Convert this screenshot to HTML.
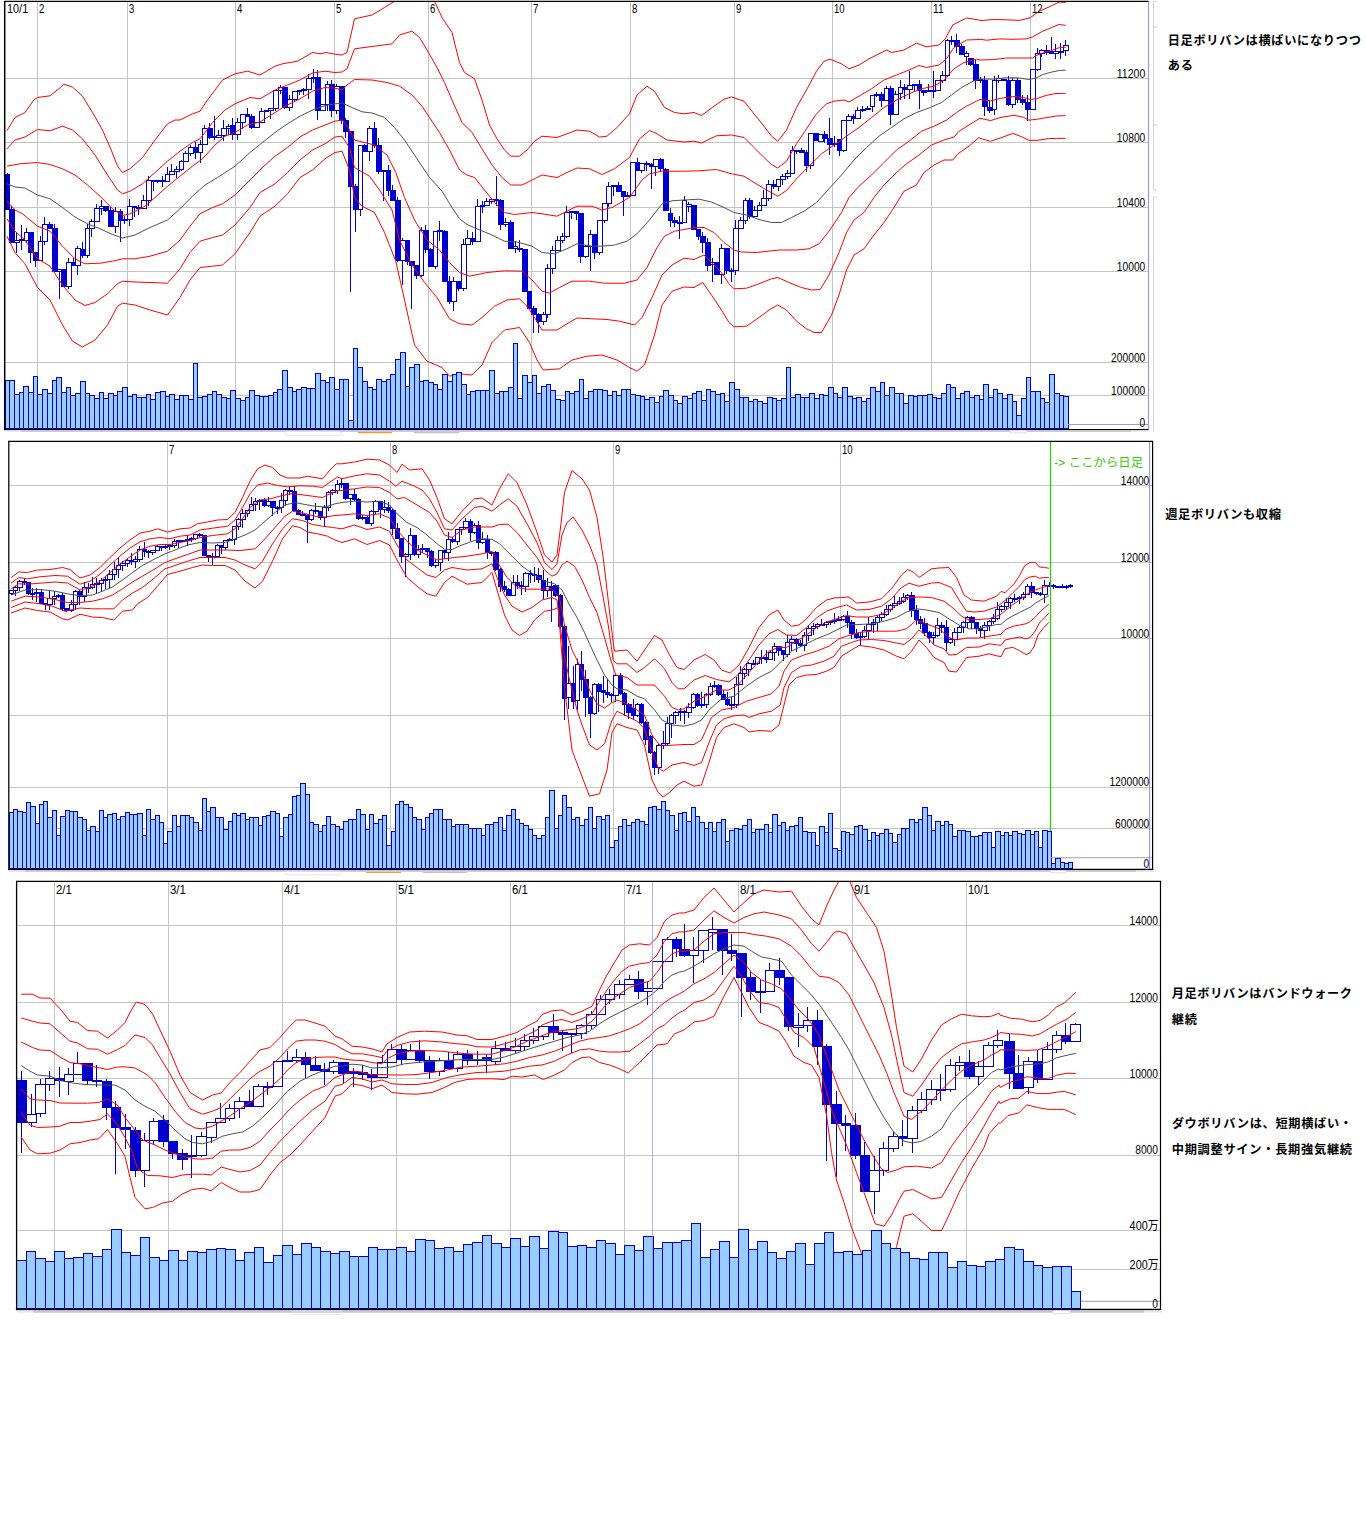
<!DOCTYPE html>
<html lang="ja"><head><meta charset="utf-8"><title>chart</title>
<style>
html,body{margin:0;padding:0;background:#fff;overflow:hidden}
svg{display:block}
text.num{font-family:"Liberation Sans",sans-serif}
text.jp{font-family:"Liberation Sans","Noto Sans CJK JP",sans-serif}
</style></head><body>
<svg width="1366" height="1528" viewBox="0 0 1366 1528">
<defs>
<clipPath id="c1"><rect x="5" y="1.5" width="1143" height="428"/></clipPath>
<clipPath id="c2"><rect x="9" y="442" width="1143" height="427"/></clipPath>
<clipPath id="c3"><rect x="17" y="882" width="1143" height="427"/></clipPath>
</defs>
<rect width="1366" height="1528" fill="#fff"/>
<line x1="4.9" x2="1148.5" y1="78.5" y2="78.5" stroke="#c4c4c4" stroke-width="1"/>
<line x1="4.9" x2="1148.5" y1="142.5" y2="142.5" stroke="#c4c4c4" stroke-width="1"/>
<line x1="4.9" x2="1148.5" y1="207.5" y2="207.5" stroke="#c4c4c4" stroke-width="1"/>
<line x1="4.9" x2="1148.5" y1="271.5" y2="271.5" stroke="#c4c4c4" stroke-width="1"/>
<line x1="4.9" x2="1148.5" y1="362.5" y2="362.5" stroke="#c4c4c4" stroke-width="1"/>
<line x1="4.9" x2="1148.5" y1="395.5" y2="395.5" stroke="#c4c4c4" stroke-width="1"/>
<line x1="37.5" x2="37.5" y1="1.4" y2="430" stroke="#c4c4c4" stroke-width="1"/>
<line x1="127.5" x2="127.5" y1="1.4" y2="430" stroke="#c4c4c4" stroke-width="1"/>
<line x1="235.5" x2="235.5" y1="1.4" y2="430" stroke="#c4c4c4" stroke-width="1"/>
<line x1="334.5" x2="334.5" y1="1.4" y2="430" stroke="#c4c4c4" stroke-width="1"/>
<line x1="428.5" x2="428.5" y1="1.4" y2="430" stroke="#c4c4c4" stroke-width="1"/>
<line x1="531.5" x2="531.5" y1="1.4" y2="430" stroke="#c4c4c4" stroke-width="1"/>
<line x1="630.5" x2="630.5" y1="1.4" y2="430" stroke="#c4c4c4" stroke-width="1"/>
<line x1="734.5" x2="734.5" y1="1.4" y2="430" stroke="#c4c4c4" stroke-width="1"/>
<line x1="832.5" x2="832.5" y1="1.4" y2="430" stroke="#c4c4c4" stroke-width="1"/>
<line x1="931.5" x2="931.5" y1="1.4" y2="430" stroke="#c4c4c4" stroke-width="1"/>
<line x1="1030.5" x2="1030.5" y1="1.4" y2="430" stroke="#c4c4c4" stroke-width="1"/>
<g stroke="#0000cc" stroke-width="1" shape-rendering="crispEdges">
<line x1="7.5" x2="7.5" y1="173" y2="210"/>
<rect x="5.5" y="174.5" width="4" height="35" fill="#0000cc"/>
<line x1="11.5" x2="11.5" y1="206" y2="243"/>
<rect x="9.5" y="209.5" width="5" height="33" fill="#0000cc"/>
<line x1="16.5" x2="16.5" y1="233" y2="253"/>
<rect x="14.5" y="240.5" width="5" height="2" fill="#fff"/>
<line x1="21.5" x2="21.5" y1="225" y2="250"/>
<rect x="19.5" y="239.5" width="5" height="1" fill="#fff"/>
<line x1="26.5" x2="26.5" y1="228" y2="243"/>
<rect x="24.5" y="232.5" width="4" height="8" fill="#fff"/>
<line x1="30.5" x2="30.5" y1="232" y2="263"/>
<rect x="28.5" y="232.5" width="5" height="20" fill="#0000cc"/>
<line x1="35.5" x2="35.5" y1="252" y2="267"/>
<rect x="33.5" y="252.5" width="5" height="8" fill="#0000cc"/>
<line x1="40.5" x2="40.5" y1="236" y2="261"/>
<rect x="38.5" y="241.5" width="4" height="19" fill="#fff"/>
<line x1="44.5" x2="44.5" y1="217" y2="245"/>
<rect x="42.5" y="224.5" width="5" height="17" fill="#fff"/>
<line x1="49.5" x2="49.5" y1="222" y2="229"/>
<rect x="47.5" y="224.5" width="5" height="4" fill="#0000cc"/>
<line x1="54.5" x2="54.5" y1="224" y2="272"/>
<rect x="52.5" y="228.5" width="5" height="43" fill="#0000cc"/>
<line x1="59.5" x2="59.5" y1="269" y2="299"/>
<rect x="57.5" y="269.5" width="4" height="2" fill="#fff"/>
<line x1="63.5" x2="63.5" y1="269" y2="287"/>
<rect x="61.5" y="269.5" width="5" height="17" fill="#0000cc"/>
<line x1="68.5" x2="68.5" y1="258" y2="289"/>
<rect x="66.5" y="262.5" width="5" height="24" fill="#fff"/>
<line x1="73.5" x2="73.5" y1="258" y2="266"/>
<rect x="71.5" y="262.5" width="5" height="3" fill="#0000cc"/>
<line x1="77.5" x2="77.5" y1="246" y2="275"/>
<rect x="75.5" y="248.5" width="5" height="17" fill="#fff"/>
<line x1="82.5" x2="82.5" y1="242" y2="258"/>
<rect x="80.5" y="249.5" width="5" height="6" fill="#0000cc"/>
<line x1="87.5" x2="87.5" y1="224" y2="258"/>
<rect x="85.5" y="228.5" width="4" height="27" fill="#fff"/>
<line x1="91.5" x2="91.5" y1="219" y2="237"/>
<rect x="89.5" y="221.5" width="5" height="7" fill="#fff"/>
<line x1="96.5" x2="96.5" y1="204" y2="222"/>
<rect x="94.5" y="208.5" width="5" height="13" fill="#fff"/>
<line x1="101.5" x2="101.5" y1="200" y2="215"/>
<rect x="99.5" y="206.5" width="5" height="2" fill="#fff"/>
<line x1="105.5" x2="105.5" y1="206" y2="212"/>
<rect x="103.5" y="206.5" width="5" height="4" fill="#0000cc"/>
<line x1="110.5" x2="110.5" y1="207" y2="227"/>
<rect x="108.5" y="210.5" width="5" height="16" fill="#0000cc"/>
<line x1="115.5" x2="115.5" y1="207" y2="233"/>
<rect x="113.5" y="211.5" width="5" height="15" fill="#fff"/>
<line x1="120.5" x2="120.5" y1="209" y2="242"/>
<rect x="118.5" y="211.5" width="4" height="9" fill="#0000cc"/>
<line x1="124.5" x2="124.5" y1="216" y2="224"/>
<rect x="122.5" y="219.5" width="5" height="1" fill="#fff"/>
<line x1="129.5" x2="129.5" y1="199" y2="226"/>
<rect x="127.5" y="206.5" width="5" height="13" fill="#fff"/>
<line x1="134.5" x2="134.5" y1="206" y2="217"/>
<rect x="132.5" y="206.5" width="4" height="1" fill="#0000cc"/>
<line x1="138.5" x2="138.5" y1="205" y2="215"/>
<rect x="136.5" y="207.5" width="5" height="1" fill="#0000cc"/>
<line x1="143.5" x2="143.5" y1="195" y2="209"/>
<rect x="141.5" y="200.5" width="5" height="8" fill="#fff"/>
<line x1="148.5" x2="148.5" y1="176" y2="206"/>
<rect x="146.5" y="180.5" width="5" height="20" fill="#fff"/>
<line x1="153.5" x2="153.5" y1="180" y2="191"/>
<rect x="151.5" y="180.5" width="4" height="1" fill="#0000cc"/>
<line x1="157.5" x2="157.5" y1="180" y2="183"/>
<rect x="155.5" y="180.5" width="5" height="1" fill="#fff"/>
<line x1="162.5" x2="162.5" y1="176" y2="187"/>
<rect x="160.5" y="180.5" width="5" height="1" fill="#0000cc"/>
<line x1="167.5" x2="167.5" y1="167" y2="182"/>
<rect x="165.5" y="174.5" width="4" height="7" fill="#fff"/>
<line x1="171.5" x2="171.5" y1="164" y2="175"/>
<rect x="169.5" y="171.5" width="5" height="3" fill="#fff"/>
<line x1="176.5" x2="176.5" y1="166" y2="178"/>
<rect x="174.5" y="169.5" width="5" height="2" fill="#fff"/>
<line x1="181.5" x2="181.5" y1="160" y2="171"/>
<rect x="179.5" y="161.5" width="4" height="8" fill="#fff"/>
<line x1="185.5" x2="185.5" y1="151" y2="162"/>
<rect x="183.5" y="153.5" width="5" height="8" fill="#fff"/>
<line x1="190.5" x2="190.5" y1="145" y2="156"/>
<rect x="188.5" y="147.5" width="5" height="6" fill="#fff"/>
<line x1="195.5" x2="195.5" y1="142" y2="159"/>
<rect x="193.5" y="147.5" width="5" height="5" fill="#0000cc"/>
<line x1="200.5" x2="200.5" y1="140" y2="163"/>
<rect x="198.5" y="144.5" width="4" height="8" fill="#fff"/>
<line x1="204.5" x2="204.5" y1="125" y2="145"/>
<rect x="202.5" y="128.5" width="5" height="16" fill="#fff"/>
<line x1="209.5" x2="209.5" y1="123" y2="139"/>
<rect x="207.5" y="128.5" width="5" height="9" fill="#0000cc"/>
<line x1="214.5" x2="214.5" y1="116" y2="140"/>
<rect x="212.5" y="136.5" width="4" height="1" fill="#fff"/>
<line x1="218.5" x2="218.5" y1="130" y2="138"/>
<rect x="216.5" y="135.5" width="5" height="2" fill="#fff"/>
<line x1="223.5" x2="223.5" y1="120" y2="141"/>
<rect x="221.5" y="128.5" width="5" height="7" fill="#fff"/>
<line x1="228.5" x2="228.5" y1="124" y2="135"/>
<rect x="226.5" y="126.5" width="4" height="2" fill="#fff"/>
<line x1="232.5" x2="232.5" y1="118" y2="140"/>
<rect x="230.5" y="125.5" width="5" height="9" fill="#0000cc"/>
<line x1="237.5" x2="237.5" y1="118" y2="140"/>
<rect x="235.5" y="122.5" width="5" height="12" fill="#fff"/>
<line x1="242.5" x2="242.5" y1="114" y2="129"/>
<rect x="240.5" y="114.5" width="5" height="8" fill="#fff"/>
<line x1="247.5" x2="247.5" y1="108" y2="117"/>
<rect x="245.5" y="114.5" width="4" height="2" fill="#0000cc"/>
<line x1="251.5" x2="251.5" y1="114" y2="129"/>
<rect x="249.5" y="116.5" width="5" height="11" fill="#0000cc"/>
<line x1="256.5" x2="256.5" y1="122" y2="128"/>
<rect x="254.5" y="122.5" width="5" height="5" fill="#fff"/>
<line x1="261.5" x2="261.5" y1="108" y2="123"/>
<rect x="259.5" y="111.5" width="5" height="11" fill="#fff"/>
<line x1="266.5" x2="266.5" y1="110" y2="112"/>
<rect x="264.5" y="110.5" width="4" height="1" fill="#fff"/>
<line x1="270.5" x2="270.5" y1="108" y2="119"/>
<rect x="268.5" y="108.5" width="5" height="2" fill="#fff"/>
<line x1="275.5" x2="275.5" y1="90" y2="111"/>
<rect x="273.5" y="90.5" width="5" height="18" fill="#fff"/>
<line x1="280.5" x2="280.5" y1="85" y2="94"/>
<rect x="278.5" y="87.5" width="4" height="3" fill="#fff"/>
<line x1="284.5" x2="284.5" y1="87" y2="109"/>
<rect x="282.5" y="87.5" width="5" height="20" fill="#0000cc"/>
<line x1="289.5" x2="289.5" y1="95" y2="111"/>
<rect x="287.5" y="99.5" width="5" height="8" fill="#fff"/>
<line x1="294.5" x2="294.5" y1="91" y2="101"/>
<rect x="292.5" y="91.5" width="5" height="8" fill="#fff"/>
<line x1="299.5" x2="299.5" y1="90" y2="95"/>
<rect x="297.5" y="90.5" width="4" height="1" fill="#fff"/>
<line x1="303.5" x2="303.5" y1="88" y2="95"/>
<rect x="301.5" y="89.5" width="5" height="1" fill="#fff"/>
<line x1="308.5" x2="308.5" y1="74" y2="99"/>
<rect x="306.5" y="78.5" width="5" height="11" fill="#fff"/>
<line x1="313.5" x2="313.5" y1="69" y2="83"/>
<rect x="311.5" y="77.5" width="4" height="1" fill="#0000cc"/>
<line x1="317.5" x2="317.5" y1="70" y2="120"/>
<rect x="315.5" y="77.5" width="5" height="33" fill="#0000cc"/>
<line x1="322.5" x2="322.5" y1="104" y2="111"/>
<rect x="320.5" y="104.5" width="5" height="6" fill="#fff"/>
<line x1="327.5" x2="327.5" y1="81" y2="111"/>
<rect x="325.5" y="84.5" width="4" height="20" fill="#fff"/>
<line x1="331.5" x2="331.5" y1="80" y2="117"/>
<rect x="329.5" y="84.5" width="5" height="26" fill="#0000cc"/>
<line x1="336.5" x2="336.5" y1="84" y2="114"/>
<rect x="334.5" y="86.5" width="5" height="24" fill="#fff"/>
<line x1="341.5" x2="341.5" y1="86" y2="124"/>
<rect x="339.5" y="86.5" width="5" height="34" fill="#0000cc"/>
<line x1="345.5" x2="345.5" y1="118" y2="138"/>
<rect x="343.5" y="120.5" width="5" height="11" fill="#0000cc"/>
<line x1="350.5" x2="350.5" y1="131" y2="292"/>
<rect x="348.5" y="131.5" width="5" height="55" fill="#0000cc"/>
<line x1="355.5" x2="355.5" y1="184" y2="232"/>
<rect x="353.5" y="186.5" width="5" height="23" fill="#0000cc"/>
<line x1="360.5" x2="360.5" y1="145" y2="216"/>
<rect x="358.5" y="145.5" width="4" height="64" fill="#fff"/>
<line x1="364.5" x2="364.5" y1="144" y2="152"/>
<rect x="362.5" y="145.5" width="5" height="6" fill="#0000cc"/>
<line x1="369.5" x2="369.5" y1="126" y2="161"/>
<rect x="367.5" y="128.5" width="5" height="23" fill="#fff"/>
<line x1="374.5" x2="374.5" y1="122" y2="148"/>
<rect x="372.5" y="128.5" width="4" height="17" fill="#0000cc"/>
<line x1="378.5" x2="378.5" y1="138" y2="174"/>
<rect x="376.5" y="145.5" width="5" height="26" fill="#0000cc"/>
<line x1="383.5" x2="383.5" y1="170" y2="201"/>
<rect x="381.5" y="170.5" width="5" height="1" fill="#fff"/>
<line x1="388.5" x2="388.5" y1="165" y2="196"/>
<rect x="386.5" y="170.5" width="4" height="20" fill="#0000cc"/>
<line x1="392.5" x2="392.5" y1="185" y2="201"/>
<rect x="390.5" y="190.5" width="5" height="10" fill="#0000cc"/>
<line x1="397.5" x2="397.5" y1="197" y2="262"/>
<rect x="395.5" y="200.5" width="5" height="60" fill="#0000cc"/>
<line x1="402.5" x2="402.5" y1="238" y2="285"/>
<rect x="400.5" y="240.5" width="5" height="20" fill="#fff"/>
<line x1="407.5" x2="407.5" y1="240" y2="265"/>
<rect x="405.5" y="240.5" width="4" height="21" fill="#0000cc"/>
<line x1="411.5" x2="411.5" y1="261" y2="309"/>
<rect x="409.5" y="261.5" width="5" height="4" fill="#0000cc"/>
<line x1="416.5" x2="416.5" y1="265" y2="279"/>
<rect x="414.5" y="265.5" width="5" height="10" fill="#0000cc"/>
<line x1="421.5" x2="421.5" y1="227" y2="277"/>
<rect x="419.5" y="230.5" width="4" height="45" fill="#fff"/>
<line x1="425.5" x2="425.5" y1="225" y2="253"/>
<rect x="423.5" y="230.5" width="5" height="19" fill="#0000cc"/>
<line x1="430.5" x2="430.5" y1="248" y2="267"/>
<rect x="428.5" y="249.5" width="5" height="17" fill="#0000cc"/>
<line x1="435.5" x2="435.5" y1="231" y2="269"/>
<rect x="433.5" y="231.5" width="4" height="35" fill="#fff"/>
<line x1="439.5" x2="439.5" y1="221" y2="241"/>
<rect x="437.5" y="230.5" width="5" height="1" fill="#fff"/>
<line x1="444.5" x2="444.5" y1="230" y2="282"/>
<rect x="442.5" y="231.5" width="5" height="50" fill="#0000cc"/>
<line x1="449.5" x2="449.5" y1="276" y2="304"/>
<rect x="447.5" y="281.5" width="5" height="20" fill="#0000cc"/>
<line x1="453.5" x2="453.5" y1="277" y2="311"/>
<rect x="451.5" y="281.5" width="5" height="20" fill="#fff"/>
<line x1="458.5" x2="458.5" y1="281" y2="291"/>
<rect x="456.5" y="281.5" width="5" height="7" fill="#0000cc"/>
<line x1="463.5" x2="463.5" y1="239" y2="291"/>
<rect x="461.5" y="244.5" width="5" height="44" fill="#fff"/>
<line x1="467.5" x2="467.5" y1="230" y2="245"/>
<rect x="465.5" y="238.5" width="5" height="6" fill="#fff"/>
<line x1="472.5" x2="472.5" y1="232" y2="245"/>
<rect x="470.5" y="238.5" width="5" height="3" fill="#0000cc"/>
<line x1="477.5" x2="477.5" y1="199" y2="242"/>
<rect x="475.5" y="206.5" width="5" height="35" fill="#fff"/>
<line x1="482.5" x2="482.5" y1="201" y2="213"/>
<rect x="480.5" y="205.5" width="4" height="1" fill="#fff"/>
<line x1="486.5" x2="486.5" y1="198" y2="206"/>
<rect x="484.5" y="201.5" width="5" height="4" fill="#fff"/>
<line x1="491.5" x2="491.5" y1="198" y2="204"/>
<rect x="489.5" y="199.5" width="5" height="2" fill="#fff"/>
<line x1="496.5" x2="496.5" y1="176" y2="206"/>
<rect x="494.5" y="199.5" width="4" height="1" fill="#0000cc"/>
<line x1="500.5" x2="500.5" y1="199" y2="230"/>
<rect x="498.5" y="200.5" width="5" height="24" fill="#0000cc"/>
<line x1="505.5" x2="505.5" y1="218" y2="227"/>
<rect x="503.5" y="222.5" width="5" height="2" fill="#fff"/>
<line x1="510.5" x2="510.5" y1="220" y2="249"/>
<rect x="508.5" y="222.5" width="5" height="26" fill="#0000cc"/>
<line x1="515.5" x2="515.5" y1="241" y2="253"/>
<rect x="513.5" y="246.5" width="4" height="2" fill="#fff"/>
<line x1="519.5" x2="519.5" y1="240" y2="252"/>
<rect x="517.5" y="248.5" width="5" height="1" fill="#0000cc"/>
<line x1="524.5" x2="524.5" y1="249" y2="292"/>
<rect x="522.5" y="249.5" width="5" height="42" fill="#0000cc"/>
<line x1="529.5" x2="529.5" y1="291" y2="309"/>
<rect x="527.5" y="291.5" width="4" height="17" fill="#0000cc"/>
<line x1="533.5" x2="533.5" y1="306" y2="333"/>
<rect x="531.5" y="308.5" width="5" height="6" fill="#0000cc"/>
<line x1="538.5" x2="538.5" y1="313" y2="333"/>
<rect x="536.5" y="314.5" width="5" height="7" fill="#0000cc"/>
<line x1="543.5" x2="543.5" y1="312" y2="325"/>
<rect x="541.5" y="314.5" width="5" height="7" fill="#fff"/>
<line x1="547.5" x2="547.5" y1="264" y2="318"/>
<rect x="545.5" y="268.5" width="5" height="46" fill="#fff"/>
<line x1="552.5" x2="552.5" y1="246" y2="274"/>
<rect x="550.5" y="250.5" width="5" height="18" fill="#fff"/>
<line x1="557.5" x2="557.5" y1="236" y2="251"/>
<rect x="555.5" y="240.5" width="5" height="10" fill="#fff"/>
<line x1="562.5" x2="562.5" y1="233" y2="243"/>
<rect x="560.5" y="236.5" width="4" height="4" fill="#fff"/>
<line x1="566.5" x2="566.5" y1="206" y2="238"/>
<rect x="564.5" y="212.5" width="5" height="24" fill="#fff"/>
<line x1="571.5" x2="571.5" y1="211" y2="219"/>
<rect x="569.5" y="211.5" width="5" height="1" fill="#fff"/>
<line x1="576.5" x2="576.5" y1="211" y2="220"/>
<rect x="574.5" y="211.5" width="4" height="2" fill="#0000cc"/>
<line x1="580.5" x2="580.5" y1="213" y2="263"/>
<rect x="578.5" y="213.5" width="5" height="43" fill="#0000cc"/>
<line x1="585.5" x2="585.5" y1="245" y2="258"/>
<rect x="583.5" y="246.5" width="5" height="10" fill="#fff"/>
<line x1="590.5" x2="590.5" y1="230" y2="271"/>
<rect x="588.5" y="234.5" width="4" height="12" fill="#fff"/>
<line x1="594.5" x2="594.5" y1="234" y2="259"/>
<rect x="592.5" y="234.5" width="5" height="18" fill="#0000cc"/>
<line x1="599.5" x2="599.5" y1="220" y2="255"/>
<rect x="597.5" y="220.5" width="5" height="32" fill="#fff"/>
<line x1="604.5" x2="604.5" y1="203" y2="223"/>
<rect x="602.5" y="203.5" width="5" height="17" fill="#fff"/>
<line x1="608.5" x2="608.5" y1="182" y2="207"/>
<rect x="606.5" y="186.5" width="5" height="17" fill="#fff"/>
<line x1="613.5" x2="613.5" y1="185" y2="196"/>
<rect x="611.5" y="185.5" width="5" height="1" fill="#fff"/>
<line x1="618.5" x2="618.5" y1="182" y2="192"/>
<rect x="616.5" y="185.5" width="5" height="6" fill="#0000cc"/>
<line x1="623.5" x2="623.5" y1="191" y2="216"/>
<rect x="621.5" y="191.5" width="4" height="5" fill="#0000cc"/>
<line x1="627.5" x2="627.5" y1="192" y2="197"/>
<rect x="625.5" y="195.5" width="5" height="1" fill="#fff"/>
<line x1="632.5" x2="632.5" y1="162" y2="196"/>
<rect x="630.5" y="162.5" width="5" height="33" fill="#fff"/>
<line x1="637.5" x2="637.5" y1="158" y2="171"/>
<rect x="635.5" y="162.5" width="4" height="8" fill="#0000cc"/>
<line x1="641.5" x2="641.5" y1="163" y2="173"/>
<rect x="639.5" y="163.5" width="5" height="7" fill="#fff"/>
<line x1="646.5" x2="646.5" y1="161" y2="171"/>
<rect x="644.5" y="163.5" width="5" height="1" fill="#0000cc"/>
<line x1="651.5" x2="651.5" y1="163" y2="189"/>
<rect x="649.5" y="164.5" width="5" height="2" fill="#0000cc"/>
<line x1="655.5" x2="655.5" y1="159" y2="176"/>
<rect x="653.5" y="159.5" width="5" height="7" fill="#fff"/>
<line x1="660.5" x2="660.5" y1="158" y2="171"/>
<rect x="658.5" y="159.5" width="5" height="9" fill="#0000cc"/>
<line x1="665.5" x2="665.5" y1="168" y2="211"/>
<rect x="663.5" y="169.5" width="5" height="41" fill="#0000cc"/>
<line x1="670.5" x2="670.5" y1="208" y2="227"/>
<rect x="668.5" y="213.5" width="4" height="7" fill="#0000cc"/>
<line x1="674.5" x2="674.5" y1="217" y2="227"/>
<rect x="672.5" y="220.5" width="5" height="2" fill="#0000cc"/>
<line x1="679.5" x2="679.5" y1="216" y2="239"/>
<rect x="677.5" y="222.5" width="5" height="1" fill="#0000cc"/>
<line x1="684.5" x2="684.5" y1="196" y2="223"/>
<rect x="682.5" y="200.5" width="4" height="22" fill="#fff"/>
<line x1="688.5" x2="688.5" y1="202" y2="212"/>
<rect x="686.5" y="204.5" width="5" height="2" fill="#fff"/>
<line x1="693.5" x2="693.5" y1="205" y2="230"/>
<rect x="691.5" y="205.5" width="5" height="24" fill="#0000cc"/>
<line x1="698.5" x2="698.5" y1="229" y2="240"/>
<rect x="696.5" y="229.5" width="4" height="7" fill="#0000cc"/>
<line x1="702.5" x2="702.5" y1="232" y2="253"/>
<rect x="700.5" y="236.5" width="5" height="6" fill="#0000cc"/>
<line x1="707.5" x2="707.5" y1="238" y2="271"/>
<rect x="705.5" y="242.5" width="5" height="23" fill="#0000cc"/>
<line x1="712.5" x2="712.5" y1="258" y2="282"/>
<rect x="710.5" y="262.5" width="5" height="2" fill="#fff"/>
<line x1="716.5" x2="716.5" y1="262" y2="275"/>
<rect x="714.5" y="262.5" width="5" height="12" fill="#0000cc"/>
<line x1="721.5" x2="721.5" y1="244" y2="284"/>
<rect x="719.5" y="248.5" width="5" height="26" fill="#fff"/>
<line x1="726.5" x2="726.5" y1="248" y2="274"/>
<rect x="724.5" y="248.5" width="5" height="22" fill="#0000cc"/>
<line x1="731.5" x2="731.5" y1="268" y2="282"/>
<rect x="729.5" y="270.5" width="4" height="1" fill="#0000cc"/>
<line x1="735.5" x2="735.5" y1="220" y2="275"/>
<rect x="733.5" y="228.5" width="5" height="42" fill="#fff"/>
<line x1="740.5" x2="740.5" y1="217" y2="229"/>
<rect x="738.5" y="220.5" width="5" height="8" fill="#fff"/>
<line x1="745.5" x2="745.5" y1="198" y2="224"/>
<rect x="743.5" y="200.5" width="4" height="20" fill="#fff"/>
<line x1="749.5" x2="749.5" y1="198" y2="219"/>
<rect x="747.5" y="200.5" width="5" height="16" fill="#0000cc"/>
<line x1="754.5" x2="754.5" y1="206" y2="217"/>
<rect x="752.5" y="210.5" width="5" height="6" fill="#fff"/>
<line x1="759.5" x2="759.5" y1="202" y2="211"/>
<rect x="757.5" y="205.5" width="4" height="5" fill="#fff"/>
<line x1="763.5" x2="763.5" y1="190" y2="206"/>
<rect x="761.5" y="198.5" width="5" height="7" fill="#fff"/>
<line x1="768.5" x2="768.5" y1="180" y2="201"/>
<rect x="766.5" y="184.5" width="5" height="14" fill="#fff"/>
<line x1="773.5" x2="773.5" y1="180" y2="189"/>
<rect x="771.5" y="184.5" width="5" height="2" fill="#0000cc"/>
<line x1="778.5" x2="778.5" y1="179" y2="191"/>
<rect x="776.5" y="179.5" width="4" height="7" fill="#fff"/>
<line x1="782.5" x2="782.5" y1="174" y2="185"/>
<rect x="780.5" y="176.5" width="5" height="3" fill="#fff"/>
<line x1="787.5" x2="787.5" y1="170" y2="179"/>
<rect x="785.5" y="173.5" width="5" height="3" fill="#fff"/>
<line x1="792.5" x2="792.5" y1="146" y2="174"/>
<rect x="790.5" y="150.5" width="4" height="23" fill="#fff"/>
<line x1="796.5" x2="796.5" y1="150" y2="154"/>
<rect x="794.5" y="150.5" width="5" height="1" fill="#0000cc"/>
<line x1="801.5" x2="801.5" y1="148" y2="153"/>
<rect x="799.5" y="150.5" width="5" height="2" fill="#0000cc"/>
<line x1="806.5" x2="806.5" y1="150" y2="172"/>
<rect x="804.5" y="152.5" width="4" height="13" fill="#0000cc"/>
<line x1="810.5" x2="810.5" y1="133" y2="169"/>
<rect x="808.5" y="133.5" width="5" height="32" fill="#fff"/>
<line x1="815.5" x2="815.5" y1="133" y2="141"/>
<rect x="813.5" y="133.5" width="5" height="7" fill="#0000cc"/>
<line x1="820.5" x2="820.5" y1="134" y2="142"/>
<rect x="818.5" y="134.5" width="5" height="7" fill="#fff"/>
<line x1="824.5" x2="824.5" y1="131" y2="143"/>
<rect x="822.5" y="134.5" width="5" height="4" fill="#0000cc"/>
<line x1="829.5" x2="829.5" y1="118" y2="155"/>
<rect x="827.5" y="138.5" width="5" height="6" fill="#0000cc"/>
<line x1="834.5" x2="834.5" y1="136" y2="147"/>
<rect x="832.5" y="143.5" width="5" height="1" fill="#fff"/>
<line x1="839.5" x2="839.5" y1="139" y2="156"/>
<rect x="837.5" y="139.5" width="4" height="11" fill="#0000cc"/>
<line x1="843.5" x2="843.5" y1="120" y2="152"/>
<rect x="841.5" y="120.5" width="5" height="30" fill="#fff"/>
<line x1="848.5" x2="848.5" y1="114" y2="121"/>
<rect x="846.5" y="116.5" width="5" height="4" fill="#fff"/>
<line x1="853.5" x2="853.5" y1="114" y2="124"/>
<rect x="851.5" y="116.5" width="4" height="2" fill="#0000cc"/>
<line x1="857.5" x2="857.5" y1="107" y2="119"/>
<rect x="855.5" y="110.5" width="5" height="8" fill="#fff"/>
<line x1="862.5" x2="862.5" y1="106" y2="112"/>
<rect x="860.5" y="109.5" width="5" height="1" fill="#fff"/>
<line x1="867.5" x2="867.5" y1="106" y2="110"/>
<rect x="865.5" y="108.5" width="5" height="1" fill="#0000cc"/>
<line x1="872.5" x2="872.5" y1="95" y2="112"/>
<rect x="870.5" y="95.5" width="4" height="11" fill="#fff"/>
<line x1="876.5" x2="876.5" y1="92" y2="97"/>
<rect x="874.5" y="94.5" width="5" height="1" fill="#0000cc"/>
<line x1="881.5" x2="881.5" y1="92" y2="107"/>
<rect x="879.5" y="94.5" width="5" height="6" fill="#0000cc"/>
<line x1="886.5" x2="886.5" y1="86" y2="101"/>
<rect x="884.5" y="88.5" width="4" height="12" fill="#fff"/>
<line x1="890.5" x2="890.5" y1="86" y2="125"/>
<rect x="888.5" y="88.5" width="5" height="26" fill="#0000cc"/>
<line x1="895.5" x2="895.5" y1="91" y2="115"/>
<rect x="893.5" y="94.5" width="5" height="20" fill="#fff"/>
<line x1="900.5" x2="900.5" y1="80" y2="100"/>
<rect x="898.5" y="87.5" width="4" height="6" fill="#fff"/>
<line x1="904.5" x2="904.5" y1="84" y2="99"/>
<rect x="902.5" y="87.5" width="5" height="2" fill="#0000cc"/>
<line x1="909.5" x2="909.5" y1="71" y2="99"/>
<rect x="907.5" y="85.5" width="5" height="4" fill="#fff"/>
<line x1="914.5" x2="914.5" y1="84" y2="91"/>
<rect x="912.5" y="84.5" width="5" height="1" fill="#fff"/>
<line x1="919.5" x2="919.5" y1="80" y2="109"/>
<rect x="917.5" y="84.5" width="4" height="6" fill="#0000cc"/>
<line x1="923.5" x2="923.5" y1="90" y2="96"/>
<rect x="921.5" y="90.5" width="5" height="2" fill="#0000cc"/>
<line x1="928.5" x2="928.5" y1="84" y2="92"/>
<rect x="926.5" y="90.5" width="5" height="1" fill="#fff"/>
<line x1="933.5" x2="933.5" y1="71" y2="98"/>
<rect x="931.5" y="90.5" width="4" height="1" fill="#fff"/>
<line x1="937.5" x2="937.5" y1="80" y2="91"/>
<rect x="935.5" y="80.5" width="5" height="10" fill="#fff"/>
<line x1="942.5" x2="942.5" y1="71" y2="83"/>
<rect x="940.5" y="75.5" width="5" height="5" fill="#fff"/>
<line x1="947.5" x2="947.5" y1="39" y2="77"/>
<rect x="945.5" y="40.5" width="4" height="35" fill="#fff"/>
<line x1="951.5" x2="951.5" y1="36" y2="45"/>
<rect x="949.5" y="40.5" width="5" height="1" fill="#fff"/>
<line x1="956.5" x2="956.5" y1="34" y2="53"/>
<rect x="954.5" y="40.5" width="5" height="6" fill="#0000cc"/>
<line x1="961.5" x2="961.5" y1="44" y2="55"/>
<rect x="959.5" y="46.5" width="5" height="8" fill="#0000cc"/>
<line x1="966.5" x2="966.5" y1="51" y2="65"/>
<rect x="964.5" y="53.5" width="4" height="3" fill="#fff"/>
<line x1="970.5" x2="970.5" y1="58" y2="66"/>
<rect x="968.5" y="58.5" width="5" height="6" fill="#0000cc"/>
<line x1="975.5" x2="975.5" y1="60" y2="89"/>
<rect x="973.5" y="64.5" width="5" height="16" fill="#0000cc"/>
<line x1="980.5" x2="980.5" y1="77" y2="83"/>
<rect x="978.5" y="79.5" width="4" height="1" fill="#0000cc"/>
<line x1="984.5" x2="984.5" y1="76" y2="116"/>
<rect x="982.5" y="80.5" width="5" height="26" fill="#0000cc"/>
<line x1="989.5" x2="989.5" y1="100" y2="113"/>
<rect x="987.5" y="107.5" width="5" height="3" fill="#0000cc"/>
<line x1="994.5" x2="994.5" y1="76" y2="115"/>
<rect x="992.5" y="80.5" width="4" height="29" fill="#fff"/>
<line x1="998.5" x2="998.5" y1="75" y2="83"/>
<rect x="996.5" y="78.5" width="5" height="2" fill="#fff"/>
<line x1="1003.5" x2="1003.5" y1="79" y2="81"/>
<rect x="1001.5" y="79.5" width="5" height="1" fill="#0000cc"/>
<line x1="1008.5" x2="1008.5" y1="76" y2="106"/>
<rect x="1006.5" y="80.5" width="5" height="24" fill="#0000cc"/>
<line x1="1012.5" x2="1012.5" y1="78" y2="108"/>
<rect x="1010.5" y="80.5" width="5" height="24" fill="#fff"/>
<line x1="1017.5" x2="1017.5" y1="78" y2="103"/>
<rect x="1015.5" y="80.5" width="5" height="19" fill="#0000cc"/>
<line x1="1022.5" x2="1022.5" y1="95" y2="105"/>
<rect x="1020.5" y="99.5" width="5" height="3" fill="#0000cc"/>
<line x1="1027.5" x2="1027.5" y1="95" y2="121"/>
<rect x="1025.5" y="102.5" width="5" height="7" fill="#0000cc"/>
<line x1="1032.5" x2="1032.5" y1="69" y2="110"/>
<rect x="1030.5" y="69.5" width="5" height="40" fill="#fff"/>
<line x1="1037.5" x2="1037.5" y1="48" y2="71"/>
<rect x="1035.5" y="53.5" width="5" height="16" fill="#fff"/>
<line x1="1041.5" x2="1041.5" y1="49" y2="57"/>
<rect x="1039.5" y="50.5" width="5" height="3" fill="#fff"/>
<line x1="1046.5" x2="1046.5" y1="45" y2="55"/>
<rect x="1044.5" y="50.5" width="5" height="2" fill="#0000cc"/>
<line x1="1051.5" x2="1051.5" y1="37" y2="54"/>
<rect x="1049.5" y="51.5" width="5" height="2" fill="#0000cc"/>
<line x1="1055.5" x2="1055.5" y1="44" y2="59"/>
<rect x="1053.5" y="51.5" width="5" height="2" fill="#fff"/>
<line x1="1060.5" x2="1060.5" y1="43" y2="59"/>
<rect x="1058.5" y="51.5" width="5" height="1" fill="#0000cc"/>
<line x1="1065.5" x2="1065.5" y1="40" y2="56"/>
<rect x="1063.5" y="45.5" width="5" height="5" fill="#fff"/>
</g>
<g clip-path="url(#c1)" stroke-linejoin="round">
<polyline fill="none" stroke="#ff0000" stroke-width="1.0"  points="7,130.5 15,117.5 25,112.5 33.8,100 37.5,97.5 50,95.8 58.8,88.8 63.8,84.2 72.5,87 82.5,96.2 92.5,112.5 102.5,130 111.2,150 117.5,166.2 122.5,172.5 130,168.8 142.5,157.5 155,140 167.5,123.8 175,120 180,120 192.5,113.8 200,111.2 207.5,100 222.5,80 235,73.8 247.5,71.2 260,75 275,66.2 282.5,63.8 297.5,61.2 312.5,52.5 320,53.8 326.2,52.5 335,54.2 342,55 347,52.5 354.5,18.8 372,15 384.5,7.5 394.5,1.2 404.5,-10 424.5,-10 434.5,1.2 442,17.5 452,32.5 459.5,62.5 464.5,72.5 474.5,78.8 482,100 489.5,125 497,138.8 504.5,150 510.8,156.2 519.5,156.2 527,150 534.5,141.2 542,136.2 557,137.5 567,133.8 577,130 589.5,131.2 599.5,137 607,136.2 617,127.5 629.5,113.8 637,95 647,86.2 654.5,91.2 664.5,107.5 674.5,112.5 684,113.8 694,112.5 701.5,115.5 714,106.2 724,99.2 731.5,97 744,101.2 754,113.8 764,126.2 771.5,136.2 777.8,141.2 786.5,130 796.5,107.5 806.5,90 816.5,71.2 824,61.2 830.2,59.2 841.5,63.8 849,68.8 859,65 869,58.8 879,53.8 886.5,50 891.5,52.5 904,50 916.5,43.2 926.5,46.8 939,45 945.2,38.8 952.8,25 966.5,18 979,20 980,20.7 993.2,19.5 1006.4,19.8 1019.5,20.4 1030.1,17.8 1039.3,11.2 1049.8,6.6 1059.1,2 1065.7,2.4"/>
<polyline fill="none" stroke="#ff0000" stroke-width="1.0"  points="7,148.8 15,140 25,137 37.5,129.5 50,130.8 62.5,126.2 72.5,130 82.5,138.8 95,155 107.5,175 117.5,190 122.5,193.8 130,191.2 142.5,183.8 155,172.5 167.5,161.2 180,151.2 192.5,142.5 200,138.8 212.5,122.5 225,110 235,103.8 250,97.5 260,98.8 275,90 287.5,85 300,80 312.5,73 325,71.2 335,72.5 342,72 347,68.8 354.5,48.8 374.5,46.2 392,43.8 399.5,35 412,31.2 419.5,37.5 427,50 437,67.5 444.5,82.5 452,100 462,122.5 472,132.5 482,148.8 492,165 502,177.5 510.8,185 522,185 534.5,178.8 542,175 557,177.5 567,172.5 577,168 589.5,168.8 602,174.5 614.5,168.8 629.5,157.5 639.5,138.8 649.5,130.5 657,133.8 667,140 684,142 694,141.2 701.5,143 716.5,135.8 731.5,135 744,137.5 754,147.5 764,157.5 771.5,164.5 777.8,168 786.5,161.2 796.5,143.8 806.5,128.8 816.5,113.8 826.5,103.8 834,101.2 844,100 849,102 859,96.2 871.5,88.8 884,80 896.5,75 909,70 919,65.5 926.5,67.5 939,65 946.5,58.8 954,47.5 966.5,40 979,39.5 980,39.3 986.6,40.2 999.8,38.9 1012.9,39.3 1026.1,38.9 1032.7,36.9 1041.9,31.6 1051.2,27.7 1059.1,24.4 1065.7,25.4"/>
<polyline fill="none" stroke="#ff0000" stroke-width="1.0"  points="7,166.2 20,163.8 37.5,162.5 50,164.5 62.5,168.8 75,175 87.5,185 100,196.2 112.5,208.8 122.5,215.5 130,213.8 145,206.2 155,197.5 167.5,186.2 180,176.2 192.5,166.2 202.5,158.8 215,145 225,136.2 235,132.5 247.5,125 260,122 275,112.5 285,106.2 300,98.8 312.5,91.2 325,87.5 335,88.2 342,90 347,85 354.5,79.5 372,80 387,82.5 399.5,86.2 412,95 422,106.2 429.5,117.5 439.5,132.5 449.5,150 459.5,170 467,175 474.5,177.5 484.5,190 494.5,202.5 504.5,212.5 514.5,214.5 532,212.5 542,213.8 557,216.2 567,211.2 577,206.2 592,206.2 602,210 612,207.5 629.5,197.5 642,180 649.5,173.8 662,171.2 684,171.2 699,170.8 716.5,169.5 731.5,173.8 744,176.2 754,182.5 766.5,190 777.8,196.2 786.5,190.5 796.5,178.8 809,166.2 821.5,153.8 834,145 846.5,136.2 859,127.5 871.5,117.5 884,107.5 896.5,100 909,93.8 921.5,88.8 934,86.2 944,80 954,68.8 964,62.5 976.5,59.2 980,60 993.2,59.6 1006.4,58 1019.5,58 1032.7,58 1036.7,55.3 1043.2,52.7 1051.2,50.7 1059.1,47.7 1065.7,47.2"/>
<polyline fill="none" stroke="#ff0000" stroke-width="1.0"  points="7,201.2 15,210 22.5,213.8 37.5,226.2 50,231.2 62.5,246.2 75,258.8 85,263.8 100,263.2 112.5,261.2 122.5,258.8 135,258.8 150,256.2 167.5,251.2 180,240 190,226.2 200,213.8 212.5,207.5 222.5,203.8 235,195 250,180 262.5,167.5 275,156.2 287.5,147.5 300,137 312.5,130 325,125 335,121.2 342,120 348.2,127.5 354.5,140 374.5,145 387,155 395.8,172.5 404.5,197.5 414.5,220 427,240 439.5,250 449.5,262.5 459.5,272.5 469.5,276.2 487,272.5 504.5,270.8 522,271.2 532,280 542,291.2 549.5,293 559.5,287.5 572,281.2 589.5,281.2 604.5,283.2 624.5,283.2 637,280 647,267.5 657,247.5 664.5,236.2 674.5,231.2 684,229.5 694,227.5 704,227.5 714,232.5 724,242.5 734,250 741.5,252 756.5,252.5 779,250 796.5,250 809,248.8 819,243.8 829,231.2 841.5,212.5 849,197.5 859,186.2 871.5,175 884,162.5 896.5,150 909,141.2 921.5,131.2 934,126.2 946.5,120 956.5,112.5 966.5,106.2 976.5,101.2 980,99.5 990.5,100.8 1001.1,98.2 1014.3,96.5 1023.5,97.5 1030.1,99.5 1036.7,98.6 1045.9,95.5 1055.1,93.6 1065.7,93.3"/>
<polyline fill="none" stroke="#ff0000" stroke-width="1.0"  points="7,218.8 15,231.2 25,240 37.5,258.8 50,266.2 62.5,285 75,300 85,305.5 95,302.5 107.5,293.8 117.5,283.8 122.5,281.2 135,282 150,282.5 167.5,283.2 180,268.8 190,252.5 200,241.2 212.5,237.5 222.5,235 235,225 250,207.5 260,192.5 275,183.8 287.5,172.5 300,160 312.5,150 325,143.8 335,137 342,136.2 349.5,147.5 354.5,167.5 369.5,176.2 379.5,190 392,210 399.5,240 412,265 424.5,282.5 437,297.5 449.5,318.8 459.5,323.8 472,325 482,317.5 494.5,306.2 507,300 519.5,298.8 527,306.2 534.5,317.5 542,330 557,330 567,323.8 577,318 592,318.8 607,319.5 619.5,321.2 634.5,325 642,317.5 652,297.5 662,275 672,265 684,258.2 694,259.5 704,255 711.5,262.5 721.5,272.5 729,283.8 734,288.8 746.5,288.2 759,283.8 771.5,278.8 777.8,277.5 789,282.5 801.5,287.5 811.5,290 820.2,289.5 829,275 839,252.5 846.5,232.5 854,220 864,212.5 874,197.5 884,185 896.5,172.5 906.5,163.8 919,155 931.5,145 944,140 954,137 959,131.2 969,125 979,118.8 980,118.2 990.5,120.6 1001.1,117.3 1014.3,115.3 1023.5,117.3 1028.8,120.2 1036.7,119.3 1045.9,117.7 1056.4,116 1065.7,115.6"/>
<polyline fill="none" stroke="#ff0000" stroke-width="1.0"  points="7,236.2 15,252.5 25,263.8 37.5,287.5 50,300 62.5,325 72.5,341.2 82.5,347 95,340 107.5,325 117.5,306.2 122.5,303.2 135,305 150,310 167.5,315 180,297.5 190,280 200,267.5 212.5,266.2 222.5,265 235,253.8 250,232.5 260,216.2 275,206.2 287.5,193.8 300,177.5 312.5,170 325,158.8 335,152.5 342,151.2 349.5,170 354.5,197.5 362,206.2 374.5,212.5 384.5,232.5 395.8,261.2 404.5,300 414.5,345 427,361.2 442,367.5 449.5,376.2 459.5,373.8 472,375 482,365 492,342.5 504.5,330 519.5,327.5 529.5,342.5 537,360 543.2,370 559.5,368.8 572,360 587,356.2 602,355 617,360 629.5,367.5 637,371.2 644.5,365 654.5,335 662,305 672,291.2 684,287 694,287.5 702.8,282.5 711.5,295 721.5,310 729,322.5 734,326.8 746.5,326.2 759,317.5 769,310 777.8,305 786.5,310 796.5,321.2 806.5,328.8 814,332.5 821.5,332.5 831.5,315 839,295 846.5,270 854,255 864,248.8 874,235 884,222.5 894,207.5 904,191.2 916.5,185 924,172.5 934,165 944,160 952.8,160 957.8,153.8 969,146.2 979,137.5 980,138.4 990.5,141.3 1001.1,137.7 1012.9,133.4 1022.2,137 1028.8,140.3 1038,140.3 1048.5,138.6 1056.4,138.4 1065.7,138.4"/>
<polyline fill="none" stroke="#505050" stroke-width="1"  points="7,183.8 15,187 25,188 37.5,195 50,198.8 62.5,207.5 75,217 87.5,223.8 100,228.8 112.5,234.5 122.5,238 135,235 150,227.5 167.5,220 180,208.8 192.5,196.2 205,185 217.5,177.5 235,166.2 250,152.5 262.5,142.5 275,132.5 287.5,123.8 300,116.2 315,108.8 327.5,105 337.5,103.5 342,103 352,107.5 362,111.8 372,113 384.5,117.5 394.5,127.5 404.5,140 417,158.8 429.5,177.5 442,191.2 452,207.5 459.5,218.8 467,224.5 477,228.8 492,235 504.5,241.2 517,242 532,246.2 542,252.5 554.5,253.8 567,248.8 577,243.8 592,246.2 602,246.2 614.5,245 627,241.2 637,233.8 649.5,220 662,203.8 672,200.8 684,200 699,199.2 711.5,202 724,207.5 734,212.5 746.5,215 759,219.5 771.5,222.5 781.5,222.5 791.5,217.5 804,211.2 816.5,202.5 829,188.8 841.5,175 854,160 866.5,147.5 879,136.2 891.5,127.5 904,118.8 916.5,112.5 929,108 941.5,102.5 951.5,95 961.5,87.5 974,80.8 980,79.1 993.2,79.1 1006.4,77.7 1019.5,78 1028.8,79.5 1036.7,77.7 1043.2,74.4 1051.2,72.2 1059.1,70.5 1065.7,70.2"/>
</g>
<g fill="#99ccff" stroke="#0000cc" stroke-width="1" shape-rendering="crispEdges">
<rect x="5.5" y="380.5" width="4" height="48"/>
<rect x="9.5" y="380.5" width="5" height="48"/>
<rect x="14.5" y="394.5" width="5" height="34"/>
<rect x="19.5" y="392.5" width="4" height="36"/>
<rect x="23.5" y="386.5" width="5" height="42"/>
<rect x="28.5" y="392.5" width="5" height="36"/>
<rect x="33.5" y="376.5" width="4" height="52"/>
<rect x="37.5" y="394.5" width="5" height="34"/>
<rect x="42.5" y="389.5" width="5" height="39"/>
<rect x="47.5" y="393.5" width="5" height="35"/>
<rect x="52.5" y="380.5" width="4" height="48"/>
<rect x="56.5" y="377.5" width="5" height="51"/>
<rect x="61.5" y="392.5" width="5" height="36"/>
<rect x="66.5" y="387.5" width="4" height="41"/>
<rect x="70.5" y="395.5" width="5" height="33"/>
<rect x="75.5" y="393.5" width="5" height="35"/>
<rect x="80.5" y="381.5" width="5" height="47"/>
<rect x="85.5" y="393.5" width="4" height="35"/>
<rect x="89.5" y="395.5" width="5" height="33"/>
<rect x="94.5" y="398.5" width="5" height="30"/>
<rect x="99.5" y="392.5" width="4" height="36"/>
<rect x="103.5" y="398.5" width="5" height="30"/>
<rect x="108.5" y="393.5" width="5" height="35"/>
<rect x="113.5" y="395.5" width="4" height="33"/>
<rect x="117.5" y="391.5" width="5" height="37"/>
<rect x="122.5" y="387.5" width="5" height="41"/>
<rect x="127.5" y="396.5" width="5" height="32"/>
<rect x="132.5" y="394.5" width="4" height="34"/>
<rect x="136.5" y="397.5" width="5" height="31"/>
<rect x="141.5" y="397.5" width="5" height="31"/>
<rect x="146.5" y="394.5" width="4" height="34"/>
<rect x="150.5" y="399.5" width="5" height="29"/>
<rect x="155.5" y="392.5" width="5" height="36"/>
<rect x="160.5" y="391.5" width="5" height="37"/>
<rect x="165.5" y="396.5" width="4" height="32"/>
<rect x="169.5" y="394.5" width="5" height="34"/>
<rect x="174.5" y="399.5" width="5" height="29"/>
<rect x="179.5" y="395.5" width="4" height="33"/>
<rect x="183.5" y="395.5" width="5" height="33"/>
<rect x="188.5" y="399.5" width="5" height="29"/>
<rect x="193.5" y="363.5" width="4" height="65"/>
<rect x="197.5" y="397.5" width="5" height="31"/>
<rect x="202.5" y="396.5" width="5" height="32"/>
<rect x="207.5" y="394.5" width="5" height="34"/>
<rect x="212.5" y="391.5" width="4" height="37"/>
<rect x="216.5" y="394.5" width="5" height="34"/>
<rect x="221.5" y="397.5" width="5" height="31"/>
<rect x="226.5" y="398.5" width="4" height="30"/>
<rect x="230.5" y="390.5" width="5" height="38"/>
<rect x="235.5" y="398.5" width="5" height="30"/>
<rect x="240.5" y="400.5" width="5" height="28"/>
<rect x="245.5" y="397.5" width="4" height="31"/>
<rect x="249.5" y="390.5" width="5" height="38"/>
<rect x="254.5" y="395.5" width="5" height="33"/>
<rect x="259.5" y="396.5" width="4" height="32"/>
<rect x="263.5" y="396.5" width="5" height="32"/>
<rect x="268.5" y="395.5" width="5" height="33"/>
<rect x="273.5" y="392.5" width="4" height="36"/>
<rect x="277.5" y="389.5" width="5" height="39"/>
<rect x="282.5" y="370.5" width="5" height="58"/>
<rect x="287.5" y="387.5" width="5" height="41"/>
<rect x="292.5" y="391.5" width="4" height="37"/>
<rect x="296.5" y="389.5" width="5" height="39"/>
<rect x="301.5" y="387.5" width="5" height="41"/>
<rect x="306.5" y="388.5" width="4" height="40"/>
<rect x="310.5" y="388.5" width="5" height="40"/>
<rect x="315.5" y="373.5" width="5" height="55"/>
<rect x="320.5" y="380.5" width="5" height="48"/>
<rect x="325.5" y="382.5" width="4" height="46"/>
<rect x="329.5" y="377.5" width="5" height="51"/>
<rect x="334.5" y="389.5" width="5" height="39"/>
<rect x="339.5" y="379.5" width="4" height="49"/>
<rect x="343.5" y="379.5" width="5" height="49"/>
<rect x="348.5" y="420.5" width="5" height="8"/>
<rect x="353.5" y="348.5" width="4" height="80"/>
<rect x="357.5" y="367.5" width="5" height="61"/>
<rect x="362.5" y="381.5" width="5" height="47"/>
<rect x="367.5" y="387.5" width="5" height="41"/>
<rect x="372.5" y="389.5" width="4" height="39"/>
<rect x="376.5" y="379.5" width="5" height="49"/>
<rect x="381.5" y="381.5" width="5" height="47"/>
<rect x="386.5" y="379.5" width="4" height="49"/>
<rect x="390.5" y="374.5" width="5" height="54"/>
<rect x="395.5" y="359.5" width="5" height="69"/>
<rect x="400.5" y="352.5" width="5" height="76"/>
<rect x="405.5" y="386.5" width="4" height="42"/>
<rect x="409.5" y="367.5" width="5" height="61"/>
<rect x="414.5" y="364.5" width="5" height="64"/>
<rect x="419.5" y="381.5" width="4" height="47"/>
<rect x="423.5" y="380.5" width="5" height="48"/>
<rect x="428.5" y="382.5" width="5" height="46"/>
<rect x="433.5" y="384.5" width="4" height="44"/>
<rect x="437.5" y="389.5" width="5" height="39"/>
<rect x="442.5" y="374.5" width="5" height="54"/>
<rect x="447.5" y="381.5" width="5" height="47"/>
<rect x="452.5" y="374.5" width="4" height="54"/>
<rect x="456.5" y="372.5" width="5" height="56"/>
<rect x="461.5" y="384.5" width="5" height="44"/>
<rect x="466.5" y="394.5" width="4" height="34"/>
<rect x="470.5" y="391.5" width="5" height="37"/>
<rect x="475.5" y="390.5" width="5" height="38"/>
<rect x="480.5" y="390.5" width="5" height="38"/>
<rect x="485.5" y="390.5" width="4" height="38"/>
<rect x="489.5" y="370.5" width="5" height="58"/>
<rect x="494.5" y="393.5" width="5" height="35"/>
<rect x="499.5" y="391.5" width="4" height="37"/>
<rect x="503.5" y="391.5" width="5" height="37"/>
<rect x="508.5" y="387.5" width="5" height="41"/>
<rect x="513.5" y="343.5" width="4" height="85"/>
<rect x="517.5" y="398.5" width="5" height="30"/>
<rect x="522.5" y="375.5" width="5" height="53"/>
<rect x="527.5" y="382.5" width="5" height="46"/>
<rect x="532.5" y="375.5" width="4" height="53"/>
<rect x="536.5" y="393.5" width="5" height="35"/>
<rect x="541.5" y="386.5" width="5" height="42"/>
<rect x="546.5" y="384.5" width="4" height="44"/>
<rect x="550.5" y="390.5" width="5" height="38"/>
<rect x="555.5" y="399.5" width="5" height="29"/>
<rect x="560.5" y="400.5" width="5" height="28"/>
<rect x="565.5" y="391.5" width="4" height="37"/>
<rect x="569.5" y="393.5" width="5" height="35"/>
<rect x="574.5" y="391.5" width="5" height="37"/>
<rect x="579.5" y="379.5" width="4" height="49"/>
<rect x="583.5" y="398.5" width="5" height="30"/>
<rect x="588.5" y="391.5" width="5" height="37"/>
<rect x="593.5" y="389.5" width="4" height="39"/>
<rect x="597.5" y="389.5" width="5" height="39"/>
<rect x="602.5" y="390.5" width="5" height="38"/>
<rect x="607.5" y="395.5" width="5" height="33"/>
<rect x="612.5" y="391.5" width="4" height="37"/>
<rect x="616.5" y="395.5" width="5" height="33"/>
<rect x="621.5" y="389.5" width="5" height="39"/>
<rect x="626.5" y="389.5" width="4" height="39"/>
<rect x="630.5" y="394.5" width="5" height="34"/>
<rect x="635.5" y="395.5" width="5" height="33"/>
<rect x="640.5" y="396.5" width="4" height="32"/>
<rect x="644.5" y="399.5" width="5" height="29"/>
<rect x="649.5" y="397.5" width="5" height="31"/>
<rect x="654.5" y="402.5" width="5" height="26"/>
<rect x="659.5" y="396.5" width="4" height="32"/>
<rect x="663.5" y="390.5" width="5" height="38"/>
<rect x="668.5" y="395.5" width="5" height="33"/>
<rect x="673.5" y="400.5" width="4" height="28"/>
<rect x="677.5" y="403.5" width="5" height="25"/>
<rect x="682.5" y="396.5" width="5" height="32"/>
<rect x="687.5" y="398.5" width="5" height="30"/>
<rect x="692.5" y="393.5" width="4" height="35"/>
<rect x="696.5" y="391.5" width="5" height="37"/>
<rect x="701.5" y="400.5" width="5" height="28"/>
<rect x="706.5" y="389.5" width="4" height="39"/>
<rect x="710.5" y="391.5" width="5" height="37"/>
<rect x="715.5" y="394.5" width="5" height="34"/>
<rect x="720.5" y="393.5" width="4" height="35"/>
<rect x="724.5" y="401.5" width="5" height="27"/>
<rect x="729.5" y="382.5" width="5" height="46"/>
<rect x="734.5" y="389.5" width="5" height="39"/>
<rect x="739.5" y="397.5" width="4" height="31"/>
<rect x="743.5" y="397.5" width="5" height="31"/>
<rect x="748.5" y="401.5" width="5" height="27"/>
<rect x="753.5" y="399.5" width="4" height="29"/>
<rect x="757.5" y="401.5" width="5" height="27"/>
<rect x="762.5" y="403.5" width="5" height="25"/>
<rect x="767.5" y="397.5" width="5" height="31"/>
<rect x="772.5" y="398.5" width="4" height="30"/>
<rect x="776.5" y="400.5" width="5" height="28"/>
<rect x="781.5" y="398.5" width="5" height="30"/>
<rect x="786.5" y="367.5" width="4" height="61"/>
<rect x="790.5" y="397.5" width="5" height="31"/>
<rect x="795.5" y="394.5" width="5" height="34"/>
<rect x="800.5" y="397.5" width="4" height="31"/>
<rect x="804.5" y="397.5" width="5" height="31"/>
<rect x="809.5" y="393.5" width="5" height="35"/>
<rect x="814.5" y="398.5" width="5" height="30"/>
<rect x="819.5" y="394.5" width="4" height="34"/>
<rect x="823.5" y="395.5" width="5" height="33"/>
<rect x="828.5" y="387.5" width="5" height="41"/>
<rect x="833.5" y="393.5" width="4" height="35"/>
<rect x="837.5" y="397.5" width="5" height="31"/>
<rect x="842.5" y="387.5" width="5" height="41"/>
<rect x="847.5" y="396.5" width="5" height="32"/>
<rect x="852.5" y="398.5" width="4" height="30"/>
<rect x="856.5" y="397.5" width="5" height="31"/>
<rect x="861.5" y="401.5" width="5" height="27"/>
<rect x="866.5" y="398.5" width="4" height="30"/>
<rect x="870.5" y="387.5" width="5" height="41"/>
<rect x="875.5" y="391.5" width="5" height="37"/>
<rect x="880.5" y="382.5" width="4" height="46"/>
<rect x="884.5" y="395.5" width="5" height="33"/>
<rect x="889.5" y="387.5" width="5" height="41"/>
<rect x="894.5" y="393.5" width="5" height="35"/>
<rect x="899.5" y="393.5" width="4" height="35"/>
<rect x="903.5" y="403.5" width="5" height="25"/>
<rect x="908.5" y="395.5" width="5" height="33"/>
<rect x="913.5" y="396.5" width="4" height="32"/>
<rect x="917.5" y="395.5" width="5" height="33"/>
<rect x="922.5" y="395.5" width="5" height="33"/>
<rect x="927.5" y="394.5" width="5" height="34"/>
<rect x="932.5" y="397.5" width="4" height="31"/>
<rect x="936.5" y="398.5" width="5" height="30"/>
<rect x="941.5" y="393.5" width="5" height="35"/>
<rect x="946.5" y="384.5" width="4" height="44"/>
<rect x="950.5" y="387.5" width="5" height="41"/>
<rect x="955.5" y="398.5" width="5" height="30"/>
<rect x="960.5" y="393.5" width="4" height="35"/>
<rect x="964.5" y="391.5" width="5" height="37"/>
<rect x="969.5" y="397.5" width="5" height="31"/>
<rect x="974.5" y="395.5" width="5" height="33"/>
<rect x="979.5" y="399.5" width="4" height="29"/>
<rect x="983.5" y="384.5" width="5" height="44"/>
<rect x="988.5" y="397.5" width="5" height="31"/>
<rect x="993.5" y="389.5" width="4" height="39"/>
<rect x="997.5" y="393.5" width="5" height="35"/>
<rect x="1002.5" y="398.5" width="5" height="30"/>
<rect x="1007.5" y="394.5" width="5" height="34"/>
<rect x="1012.5" y="401.5" width="4" height="27"/>
<rect x="1016.5" y="415.5" width="5" height="13"/>
<rect x="1021.5" y="398.5" width="5" height="30"/>
<rect x="1026.5" y="377.5" width="4" height="51"/>
<rect x="1030.5" y="391.5" width="5" height="37"/>
<rect x="1035.5" y="391.5" width="5" height="37"/>
<rect x="1040.5" y="398.5" width="4" height="30"/>
<rect x="1044.5" y="402.5" width="5" height="26"/>
<rect x="1049.5" y="374.5" width="5" height="54"/>
<rect x="1054.5" y="393.5" width="5" height="35"/>
<rect x="1059.5" y="395.5" width="4" height="33"/>
<rect x="1063.5" y="396.5" width="5" height="32"/>
</g>
<line x1="1068" x2="1148.5" y1="424.5" y2="424.5" stroke="#9a9ae0" stroke-width="1"/>
<line x1="1148.5" x2="1148.5" y1="1.4" y2="430" stroke="#9a9ae0" stroke-width="1.2"/>
<line x1="4.2" x2="1148.5" y1="1.4" y2="1.4" stroke="#000" stroke-width="1.25"/>
<line x1="4.7" x2="4.7" y1="1.4" y2="430" stroke="#000" stroke-width="1.5"/>
<line x1="4" x2="1148.5" y1="429.6" y2="429.6" stroke="#000" stroke-width="1.3"/>
<line x1="1153.5" x2="1153.5" y1="1" y2="190" stroke="#d2d2d2" stroke-width="1"/>
<line x1="1153.5" x2="1153.5" y1="197" y2="431" stroke="#d2d2d2" stroke-width="1"/>
<line x1="1153.5" x2="1157" y1="1.5" y2="1.5" stroke="#d2d2d2" stroke-width="1"/>
<line x1="1153.5" x2="1157" y1="27" y2="27" stroke="#d2d2d2" stroke-width="1"/>
<line x1="1153.5" x2="1157" y1="125" y2="125" stroke="#d2d2d2" stroke-width="1"/>
<line x1="1153.5" x2="1157" y1="190" y2="190" stroke="#d2d2d2" stroke-width="1"/>
<line x1="1153.5" x2="1157" y1="197" y2="197" stroke="#d2d2d2" stroke-width="1"/>
<text x="7" y="13.2" font-size="12.5" text-anchor="start" fill="#000" font-weight="normal" class="num" textLength="21.2" lengthAdjust="spacingAndGlyphs">10/1</text>
<text x="39" y="13.2" font-size="12.5" text-anchor="start" fill="#000" font-weight="normal" class="num" textLength="5.3" lengthAdjust="spacingAndGlyphs">2</text>
<text x="129" y="13.2" font-size="12.5" text-anchor="start" fill="#000" font-weight="normal" class="num" textLength="5.3" lengthAdjust="spacingAndGlyphs">3</text>
<text x="237" y="13.2" font-size="12.5" text-anchor="start" fill="#000" font-weight="normal" class="num" textLength="5.3" lengthAdjust="spacingAndGlyphs">4</text>
<text x="336" y="13.2" font-size="12.5" text-anchor="start" fill="#000" font-weight="normal" class="num" textLength="5.3" lengthAdjust="spacingAndGlyphs">5</text>
<text x="430" y="13.2" font-size="12.5" text-anchor="start" fill="#000" font-weight="normal" class="num" textLength="5.3" lengthAdjust="spacingAndGlyphs">6</text>
<text x="533" y="13.2" font-size="12.5" text-anchor="start" fill="#000" font-weight="normal" class="num" textLength="5.3" lengthAdjust="spacingAndGlyphs">7</text>
<text x="632" y="13.2" font-size="12.5" text-anchor="start" fill="#000" font-weight="normal" class="num" textLength="5.3" lengthAdjust="spacingAndGlyphs">8</text>
<text x="736" y="13.2" font-size="12.5" text-anchor="start" fill="#000" font-weight="normal" class="num" textLength="5.3" lengthAdjust="spacingAndGlyphs">9</text>
<text x="834" y="13.2" font-size="12.5" text-anchor="start" fill="#000" font-weight="normal" class="num" textLength="10.6" lengthAdjust="spacingAndGlyphs">10</text>
<text x="933" y="13.2" font-size="12.5" text-anchor="start" fill="#000" font-weight="normal" class="num" textLength="10.6" lengthAdjust="spacingAndGlyphs">11</text>
<text x="1032" y="13.2" font-size="12.5" text-anchor="start" fill="#000" font-weight="normal" class="num" textLength="10.6" lengthAdjust="spacingAndGlyphs">12</text>
<text x="1116.8" y="77.7" font-size="12.5" text-anchor="start" fill="#000" font-weight="normal" class="num" textLength="28.5" lengthAdjust="spacingAndGlyphs">11200</text>
<text x="1116.8" y="141.7" font-size="12.5" text-anchor="start" fill="#000" font-weight="normal" class="num" textLength="28.5" lengthAdjust="spacingAndGlyphs">10800</text>
<text x="1116.8" y="206.7" font-size="12.5" text-anchor="start" fill="#000" font-weight="normal" class="num" textLength="28.5" lengthAdjust="spacingAndGlyphs">10400</text>
<text x="1116.8" y="270.7" font-size="12.5" text-anchor="start" fill="#000" font-weight="normal" class="num" textLength="28.5" lengthAdjust="spacingAndGlyphs">10000</text>
<text x="1111.1" y="361.7" font-size="12.5" text-anchor="start" fill="#000" font-weight="normal" class="num" textLength="34.2" lengthAdjust="spacingAndGlyphs">200000</text>
<text x="1111.1" y="395.2" font-size="12.5" text-anchor="start" fill="#000" font-weight="normal" class="num" textLength="34.2" lengthAdjust="spacingAndGlyphs">100000</text>
<text x="1139.6" y="427.2" font-size="12.5" text-anchor="start" fill="#000" font-weight="normal" class="num" textLength="5.7" lengthAdjust="spacingAndGlyphs">0</text>
<line x1="8.8" x2="1152.6" y1="485.5" y2="485.5" stroke="#c4c4c4" stroke-width="1"/>
<line x1="8.8" x2="1152.6" y1="562.5" y2="562.5" stroke="#c4c4c4" stroke-width="1"/>
<line x1="8.8" x2="1152.6" y1="638.5" y2="638.5" stroke="#c4c4c4" stroke-width="1"/>
<line x1="8.8" x2="1152.6" y1="715.5" y2="715.5" stroke="#c4c4c4" stroke-width="1"/>
<line x1="8.8" x2="1152.6" y1="787.5" y2="787.5" stroke="#c4c4c4" stroke-width="1"/>
<line x1="8.8" x2="1152.6" y1="828.5" y2="828.5" stroke="#c4c4c4" stroke-width="1"/>
<line x1="167.5" x2="167.5" y1="441.4" y2="870" stroke="#c4c4c4" stroke-width="1"/>
<line x1="390.5" x2="390.5" y1="441.4" y2="870" stroke="#c4c4c4" stroke-width="1"/>
<line x1="613.5" x2="613.5" y1="441.4" y2="870" stroke="#c4c4c4" stroke-width="1"/>
<line x1="840.5" x2="840.5" y1="441.4" y2="870" stroke="#c4c4c4" stroke-width="1"/>
<g stroke="#0000cc" stroke-width="1" shape-rendering="crispEdges">
<line x1="11.5" x2="11.5" y1="590" y2="595"/>
<rect x="9.5" y="590.5" width="4" height="3" fill="#fff"/>
<line x1="15.5" x2="15.5" y1="586" y2="596"/>
<rect x="13.5" y="587.5" width="4" height="3" fill="#fff"/>
<line x1="19.5" x2="19.5" y1="580" y2="591"/>
<rect x="17.5" y="581.5" width="5" height="6" fill="#fff"/>
<line x1="24.5" x2="24.5" y1="578" y2="585"/>
<rect x="22.5" y="581.5" width="4" height="1" fill="#0000cc"/>
<line x1="28.5" x2="28.5" y1="582" y2="595"/>
<rect x="26.5" y="582.5" width="4" height="11" fill="#0000cc"/>
<line x1="32.5" x2="32.5" y1="588" y2="600"/>
<rect x="30.5" y="593.5" width="4" height="1" fill="#0000cc"/>
<line x1="36.5" x2="36.5" y1="588" y2="602"/>
<rect x="34.5" y="592.5" width="5" height="1" fill="#0000cc"/>
<line x1="41.5" x2="41.5" y1="589" y2="604"/>
<rect x="39.5" y="592.5" width="4" height="11" fill="#0000cc"/>
<line x1="45.5" x2="45.5" y1="603" y2="610"/>
<rect x="43.5" y="603.5" width="4" height="1" fill="#0000cc"/>
<line x1="49.5" x2="49.5" y1="591" y2="610"/>
<rect x="47.5" y="598.5" width="5" height="6" fill="#fff"/>
<line x1="54.5" x2="54.5" y1="591" y2="605"/>
<rect x="52.5" y="596.5" width="4" height="2" fill="#fff"/>
<line x1="58.5" x2="58.5" y1="594" y2="598"/>
<rect x="56.5" y="595.5" width="4" height="1" fill="#fff"/>
<line x1="62.5" x2="62.5" y1="593" y2="611"/>
<rect x="60.5" y="595.5" width="4" height="13" fill="#0000cc"/>
<line x1="66.5" x2="66.5" y1="608" y2="612"/>
<rect x="64.5" y="608.5" width="5" height="2" fill="#0000cc"/>
<line x1="71.5" x2="71.5" y1="600" y2="612"/>
<rect x="69.5" y="604.5" width="4" height="6" fill="#fff"/>
<line x1="75.5" x2="75.5" y1="590" y2="610"/>
<rect x="73.5" y="591.5" width="4" height="13" fill="#fff"/>
<line x1="79.5" x2="79.5" y1="590" y2="605"/>
<rect x="77.5" y="591.5" width="5" height="5" fill="#0000cc"/>
<line x1="84.5" x2="84.5" y1="582" y2="602"/>
<rect x="82.5" y="587.5" width="4" height="9" fill="#fff"/>
<line x1="88.5" x2="88.5" y1="583" y2="593"/>
<rect x="86.5" y="587.5" width="4" height="1" fill="#fff"/>
<line x1="92.5" x2="92.5" y1="577" y2="589"/>
<rect x="90.5" y="584.5" width="4" height="3" fill="#fff"/>
<line x1="96.5" x2="96.5" y1="578" y2="593"/>
<rect x="94.5" y="583.5" width="5" height="1" fill="#fff"/>
<line x1="101.5" x2="101.5" y1="578" y2="592"/>
<rect x="99.5" y="580.5" width="4" height="3" fill="#fff"/>
<line x1="105.5" x2="105.5" y1="576" y2="589"/>
<rect x="103.5" y="579.5" width="4" height="1" fill="#fff"/>
<line x1="109.5" x2="109.5" y1="570" y2="588"/>
<rect x="107.5" y="574.5" width="5" height="5" fill="#fff"/>
<line x1="114.5" x2="114.5" y1="562" y2="580"/>
<rect x="112.5" y="569.5" width="4" height="5" fill="#fff"/>
<line x1="118.5" x2="118.5" y1="558" y2="578"/>
<rect x="116.5" y="565.5" width="4" height="4" fill="#fff"/>
<line x1="122.5" x2="122.5" y1="561" y2="571"/>
<rect x="120.5" y="563.5" width="5" height="2" fill="#fff"/>
<line x1="127.5" x2="127.5" y1="559" y2="567"/>
<rect x="125.5" y="560.5" width="4" height="3" fill="#fff"/>
<line x1="131.5" x2="131.5" y1="553" y2="565"/>
<rect x="129.5" y="560.5" width="4" height="1" fill="#0000cc"/>
<line x1="135.5" x2="135.5" y1="556" y2="568"/>
<rect x="133.5" y="559.5" width="4" height="2" fill="#fff"/>
<line x1="139.5" x2="139.5" y1="546" y2="562"/>
<rect x="137.5" y="549.5" width="5" height="10" fill="#fff"/>
<line x1="144.5" x2="144.5" y1="542" y2="557"/>
<rect x="142.5" y="549.5" width="4" height="2" fill="#0000cc"/>
<line x1="148.5" x2="148.5" y1="550" y2="558"/>
<rect x="146.5" y="551.5" width="4" height="1" fill="#0000cc"/>
<line x1="152.5" x2="152.5" y1="550" y2="555"/>
<rect x="150.5" y="550.5" width="5" height="2" fill="#fff"/>
<line x1="157.5" x2="157.5" y1="545" y2="551"/>
<rect x="155.5" y="546.5" width="4" height="4" fill="#fff"/>
<line x1="161.5" x2="161.5" y1="546" y2="551"/>
<rect x="159.5" y="546.5" width="4" height="1" fill="#0000cc"/>
<line x1="165.5" x2="165.5" y1="544" y2="549"/>
<rect x="163.5" y="546.5" width="4" height="1" fill="#fff"/>
<line x1="169.5" x2="169.5" y1="544" y2="550"/>
<rect x="167.5" y="545.5" width="5" height="1" fill="#fff"/>
<line x1="174.5" x2="174.5" y1="539" y2="548"/>
<rect x="172.5" y="541.5" width="4" height="4" fill="#fff"/>
<line x1="178.5" x2="178.5" y1="540" y2="548"/>
<rect x="176.5" y="540.5" width="4" height="1" fill="#fff"/>
<rect x="180.5" y="540.5" width="5" height="1" fill="#0000cc"/>
<line x1="187.5" x2="187.5" y1="535" y2="546"/>
<rect x="185.5" y="539.5" width="4" height="1" fill="#fff"/>
<line x1="191.5" x2="191.5" y1="537" y2="542"/>
<rect x="189.5" y="538.5" width="4" height="1" fill="#fff"/>
<line x1="195.5" x2="195.5" y1="534" y2="540"/>
<rect x="193.5" y="534.5" width="4" height="4" fill="#fff"/>
<line x1="199.5" x2="199.5" y1="533" y2="537"/>
<rect x="197.5" y="534.5" width="5" height="1" fill="#0000cc"/>
<line x1="204.5" x2="204.5" y1="535" y2="556"/>
<rect x="202.5" y="535.5" width="4" height="20" fill="#0000cc"/>
<line x1="208.5" x2="208.5" y1="555" y2="562"/>
<rect x="206.5" y="555.5" width="4" height="1" fill="#0000cc"/>
<line x1="212.5" x2="212.5" y1="553" y2="565"/>
<rect x="210.5" y="556.5" width="5" height="1" fill="#0000cc"/>
<line x1="217.5" x2="217.5" y1="544" y2="558"/>
<rect x="215.5" y="545.5" width="4" height="11" fill="#fff"/>
<line x1="221.5" x2="221.5" y1="545" y2="554"/>
<rect x="219.5" y="545.5" width="4" height="2" fill="#0000cc"/>
<line x1="225.5" x2="225.5" y1="540" y2="550"/>
<rect x="223.5" y="540.5" width="4" height="7" fill="#fff"/>
<line x1="229.5" x2="229.5" y1="538" y2="541"/>
<rect x="227.5" y="539.5" width="5" height="1" fill="#fff"/>
<line x1="234.5" x2="234.5" y1="526" y2="545"/>
<rect x="232.5" y="526.5" width="4" height="13" fill="#fff"/>
<line x1="238.5" x2="238.5" y1="518" y2="530"/>
<rect x="236.5" y="519.5" width="4" height="7" fill="#fff"/>
<line x1="242.5" x2="242.5" y1="509" y2="528"/>
<rect x="240.5" y="513.5" width="5" height="6" fill="#fff"/>
<line x1="247.5" x2="247.5" y1="510" y2="517"/>
<rect x="245.5" y="510.5" width="4" height="3" fill="#fff"/>
<line x1="251.5" x2="251.5" y1="497" y2="511"/>
<rect x="249.5" y="504.5" width="4" height="6" fill="#fff"/>
<line x1="255.5" x2="255.5" y1="498" y2="511"/>
<rect x="253.5" y="501.5" width="4" height="3" fill="#fff"/>
<line x1="259.5" x2="259.5" y1="499" y2="510"/>
<rect x="257.5" y="500.5" width="5" height="1" fill="#fff"/>
<line x1="264.5" x2="264.5" y1="498" y2="507"/>
<rect x="262.5" y="500.5" width="4" height="5" fill="#0000cc"/>
<line x1="268.5" x2="268.5" y1="497" y2="507"/>
<rect x="266.5" y="501.5" width="4" height="4" fill="#fff"/>
<line x1="272.5" x2="272.5" y1="501" y2="516"/>
<rect x="270.5" y="501.5" width="5" height="6" fill="#0000cc"/>
<line x1="277.5" x2="277.5" y1="506" y2="514"/>
<rect x="275.5" y="507.5" width="4" height="1" fill="#fff"/>
<line x1="281.5" x2="281.5" y1="493" y2="513"/>
<rect x="279.5" y="500.5" width="4" height="7" fill="#fff"/>
<line x1="285.5" x2="285.5" y1="489" y2="506"/>
<rect x="283.5" y="490.5" width="4" height="10" fill="#fff"/>
<line x1="289.5" x2="289.5" y1="487" y2="495"/>
<rect x="287.5" y="490.5" width="5" height="1" fill="#0000cc"/>
<line x1="294.5" x2="294.5" y1="486" y2="511"/>
<rect x="292.5" y="491.5" width="4" height="19" fill="#0000cc"/>
<line x1="298.5" x2="298.5" y1="509" y2="515"/>
<rect x="296.5" y="510.5" width="4" height="4" fill="#0000cc"/>
<line x1="302.5" x2="302.5" y1="511" y2="516"/>
<rect x="300.5" y="514.5" width="5" height="1" fill="#0000cc"/>
<line x1="307.5" x2="307.5" y1="514" y2="543"/>
<rect x="305.5" y="515.5" width="4" height="4" fill="#0000cc"/>
<line x1="311.5" x2="311.5" y1="509" y2="521"/>
<rect x="309.5" y="510.5" width="4" height="9" fill="#fff"/>
<line x1="315.5" x2="315.5" y1="503" y2="514"/>
<rect x="313.5" y="510.5" width="5" height="1" fill="#0000cc"/>
<line x1="320.5" x2="320.5" y1="511" y2="520"/>
<rect x="318.5" y="511.5" width="4" height="6" fill="#0000cc"/>
<line x1="324.5" x2="324.5" y1="505" y2="526"/>
<rect x="322.5" y="507.5" width="4" height="10" fill="#fff"/>
<line x1="328.5" x2="328.5" y1="491" y2="511"/>
<rect x="326.5" y="492.5" width="4" height="15" fill="#fff"/>
<line x1="332.5" x2="332.5" y1="489" y2="495"/>
<rect x="330.5" y="490.5" width="5" height="2" fill="#fff"/>
<line x1="337.5" x2="337.5" y1="480" y2="494"/>
<rect x="335.5" y="484.5" width="4" height="6" fill="#fff"/>
<line x1="341.5" x2="341.5" y1="478" y2="488"/>
<rect x="339.5" y="483.5" width="4" height="1" fill="#fff"/>
<line x1="345.5" x2="345.5" y1="483" y2="500"/>
<rect x="343.5" y="483.5" width="5" height="15" fill="#0000cc"/>
<line x1="350.5" x2="350.5" y1="494" y2="505"/>
<rect x="348.5" y="494.5" width="4" height="4" fill="#fff"/>
<line x1="354.5" x2="354.5" y1="489" y2="501"/>
<rect x="352.5" y="494.5" width="4" height="5" fill="#0000cc"/>
<line x1="358.5" x2="358.5" y1="498" y2="520"/>
<rect x="356.5" y="499.5" width="4" height="19" fill="#0000cc"/>
<line x1="362.5" x2="362.5" y1="515" y2="520"/>
<rect x="360.5" y="517.5" width="5" height="1" fill="#fff"/>
<line x1="367.5" x2="367.5" y1="516" y2="524"/>
<rect x="365.5" y="517.5" width="4" height="6" fill="#0000cc"/>
<line x1="371.5" x2="371.5" y1="510" y2="526"/>
<rect x="369.5" y="511.5" width="4" height="12" fill="#fff"/>
<line x1="375.5" x2="375.5" y1="500" y2="514"/>
<rect x="373.5" y="501.5" width="5" height="10" fill="#fff"/>
<line x1="380.5" x2="380.5" y1="501" y2="518"/>
<rect x="378.5" y="501.5" width="4" height="8" fill="#0000cc"/>
<line x1="384.5" x2="384.5" y1="500" y2="513"/>
<rect x="382.5" y="507.5" width="4" height="2" fill="#fff"/>
<line x1="388.5" x2="388.5" y1="502" y2="513"/>
<rect x="386.5" y="507.5" width="4" height="3" fill="#0000cc"/>
<line x1="392.5" x2="392.5" y1="508" y2="535"/>
<rect x="390.5" y="510.5" width="5" height="18" fill="#0000cc"/>
<line x1="397.5" x2="397.5" y1="523" y2="539"/>
<rect x="395.5" y="528.5" width="4" height="10" fill="#0000cc"/>
<line x1="401.5" x2="401.5" y1="538" y2="563"/>
<rect x="399.5" y="538.5" width="4" height="18" fill="#0000cc"/>
<line x1="405.5" x2="405.5" y1="553" y2="577"/>
<rect x="403.5" y="554.5" width="5" height="2" fill="#fff"/>
<line x1="410.5" x2="410.5" y1="528" y2="560"/>
<rect x="408.5" y="535.5" width="4" height="19" fill="#fff"/>
<line x1="414.5" x2="414.5" y1="535" y2="556"/>
<rect x="412.5" y="535.5" width="4" height="19" fill="#0000cc"/>
<line x1="418.5" x2="418.5" y1="545" y2="558"/>
<rect x="416.5" y="549.5" width="4" height="5" fill="#fff"/>
<line x1="422.5" x2="422.5" y1="544" y2="553"/>
<rect x="420.5" y="548.5" width="5" height="1" fill="#fff"/>
<line x1="427.5" x2="427.5" y1="548" y2="558"/>
<rect x="425.5" y="548.5" width="4" height="3" fill="#0000cc"/>
<line x1="431.5" x2="431.5" y1="550" y2="567"/>
<rect x="429.5" y="551.5" width="4" height="14" fill="#0000cc"/>
<line x1="435.5" x2="435.5" y1="559" y2="568"/>
<rect x="433.5" y="562.5" width="5" height="3" fill="#fff"/>
<line x1="440.5" x2="440.5" y1="550" y2="571"/>
<rect x="438.5" y="550.5" width="4" height="12" fill="#fff"/>
<line x1="444.5" x2="444.5" y1="550" y2="559"/>
<rect x="442.5" y="550.5" width="4" height="2" fill="#0000cc"/>
<line x1="448.5" x2="448.5" y1="532" y2="561"/>
<rect x="446.5" y="539.5" width="4" height="13" fill="#fff"/>
<line x1="452.5" x2="452.5" y1="537" y2="543"/>
<rect x="450.5" y="539.5" width="5" height="2" fill="#0000cc"/>
<line x1="457.5" x2="457.5" y1="529" y2="545"/>
<rect x="455.5" y="529.5" width="4" height="12" fill="#fff"/>
<line x1="461.5" x2="461.5" y1="527" y2="535"/>
<rect x="459.5" y="527.5" width="4" height="2" fill="#fff"/>
<line x1="465.5" x2="465.5" y1="518" y2="529"/>
<rect x="463.5" y="521.5" width="5" height="6" fill="#fff"/>
<line x1="470.5" x2="470.5" y1="519" y2="541"/>
<rect x="468.5" y="521.5" width="4" height="11" fill="#0000cc"/>
<line x1="474.5" x2="474.5" y1="523" y2="534"/>
<rect x="472.5" y="525.5" width="4" height="7" fill="#fff"/>
<line x1="478.5" x2="478.5" y1="521" y2="549"/>
<rect x="476.5" y="525.5" width="4" height="17" fill="#0000cc"/>
<line x1="482.5" x2="482.5" y1="532" y2="544"/>
<rect x="480.5" y="539.5" width="5" height="3" fill="#fff"/>
<line x1="487.5" x2="487.5" y1="535" y2="559"/>
<rect x="485.5" y="539.5" width="4" height="13" fill="#0000cc"/>
<line x1="491.5" x2="491.5" y1="551" y2="556"/>
<rect x="489.5" y="552.5" width="4" height="1" fill="#0000cc"/>
<line x1="495.5" x2="495.5" y1="551" y2="571"/>
<rect x="493.5" y="552.5" width="5" height="17" fill="#0000cc"/>
<line x1="500.5" x2="500.5" y1="568" y2="592"/>
<rect x="498.5" y="569.5" width="4" height="17" fill="#0000cc"/>
<line x1="504.5" x2="504.5" y1="581" y2="592"/>
<rect x="502.5" y="586.5" width="4" height="3" fill="#0000cc"/>
<line x1="508.5" x2="508.5" y1="588" y2="596"/>
<rect x="506.5" y="589.5" width="5" height="6" fill="#0000cc"/>
<line x1="513.5" x2="513.5" y1="575" y2="596"/>
<rect x="511.5" y="582.5" width="4" height="13" fill="#fff"/>
<line x1="517.5" x2="517.5" y1="575" y2="589"/>
<rect x="515.5" y="582.5" width="4" height="3" fill="#0000cc"/>
<line x1="521.5" x2="521.5" y1="581" y2="595"/>
<rect x="519.5" y="585.5" width="4" height="1" fill="#0000cc"/>
<line x1="525.5" x2="525.5" y1="572" y2="592"/>
<rect x="523.5" y="573.5" width="5" height="13" fill="#fff"/>
<line x1="530.5" x2="530.5" y1="570" y2="583"/>
<rect x="528.5" y="573.5" width="4" height="1" fill="#0000cc"/>
<line x1="534.5" x2="534.5" y1="567" y2="582"/>
<rect x="532.5" y="574.5" width="4" height="1" fill="#0000cc"/>
<line x1="538.5" x2="538.5" y1="568" y2="583"/>
<rect x="536.5" y="575.5" width="5" height="4" fill="#0000cc"/>
<line x1="543.5" x2="543.5" y1="570" y2="599"/>
<rect x="541.5" y="580.5" width="4" height="10" fill="#0000cc"/>
<line x1="547.5" x2="547.5" y1="578" y2="597"/>
<rect x="545.5" y="586.5" width="4" height="4" fill="#fff"/>
<line x1="551.5" x2="551.5" y1="581" y2="622"/>
<rect x="549.5" y="586.5" width="4" height="4" fill="#0000cc"/>
<line x1="555.5" x2="555.5" y1="584" y2="597"/>
<rect x="553.5" y="585.5" width="5" height="10" fill="#0000cc"/>
<line x1="560.5" x2="560.5" y1="594" y2="628"/>
<rect x="558.5" y="595.5" width="4" height="31" fill="#0000cc"/>
<line x1="564.5" x2="564.5" y1="625" y2="720"/>
<rect x="562.5" y="626.5" width="4" height="72" fill="#0000cc"/>
<line x1="568.5" x2="568.5" y1="646" y2="709"/>
<rect x="566.5" y="683.5" width="5" height="14" fill="#fff"/>
<line x1="573.5" x2="573.5" y1="666" y2="709"/>
<rect x="571.5" y="683.5" width="4" height="18" fill="#0000cc"/>
<line x1="577.5" x2="577.5" y1="659" y2="710"/>
<rect x="575.5" y="664.5" width="4" height="36" fill="#fff"/>
<line x1="581.5" x2="581.5" y1="651" y2="691"/>
<rect x="579.5" y="664.5" width="4" height="15" fill="#0000cc"/>
<line x1="585.5" x2="585.5" y1="670" y2="717"/>
<rect x="583.5" y="679.5" width="5" height="18" fill="#0000cc"/>
<line x1="590.5" x2="590.5" y1="696" y2="738"/>
<rect x="588.5" y="697.5" width="4" height="16" fill="#0000cc"/>
<line x1="594.5" x2="594.5" y1="683" y2="715"/>
<rect x="592.5" y="684.5" width="4" height="29" fill="#fff"/>
<line x1="598.5" x2="598.5" y1="683" y2="712"/>
<rect x="596.5" y="684.5" width="5" height="7" fill="#0000cc"/>
<line x1="603.5" x2="603.5" y1="676" y2="703"/>
<rect x="601.5" y="690.5" width="4" height="2" fill="#0000cc"/>
<line x1="607.5" x2="607.5" y1="679" y2="698"/>
<rect x="605.5" y="692.5" width="4" height="2" fill="#0000cc"/>
<line x1="611.5" x2="611.5" y1="693" y2="702"/>
<rect x="609.5" y="694.5" width="4" height="1" fill="#0000cc"/>
<line x1="615.5" x2="615.5" y1="674" y2="702"/>
<rect x="613.5" y="675.5" width="5" height="20" fill="#fff"/>
<line x1="620.5" x2="620.5" y1="673" y2="695"/>
<rect x="618.5" y="675.5" width="4" height="18" fill="#0000cc"/>
<line x1="624.5" x2="624.5" y1="692" y2="716"/>
<rect x="622.5" y="693.5" width="4" height="11" fill="#0000cc"/>
<line x1="628.5" x2="628.5" y1="703" y2="719"/>
<rect x="626.5" y="704.5" width="5" height="8" fill="#0000cc"/>
<line x1="633.5" x2="633.5" y1="699" y2="720"/>
<rect x="631.5" y="708.5" width="4" height="7" fill="#0000cc"/>
<line x1="637.5" x2="637.5" y1="703" y2="717"/>
<rect x="635.5" y="704.5" width="4" height="11" fill="#fff"/>
<line x1="641.5" x2="641.5" y1="703" y2="724"/>
<rect x="639.5" y="704.5" width="4" height="18" fill="#0000cc"/>
<line x1="645.5" x2="645.5" y1="721" y2="745"/>
<rect x="643.5" y="722.5" width="5" height="17" fill="#0000cc"/>
<line x1="650.5" x2="650.5" y1="735" y2="754"/>
<rect x="648.5" y="736.5" width="4" height="16" fill="#0000cc"/>
<line x1="654.5" x2="654.5" y1="751" y2="775"/>
<rect x="652.5" y="752.5" width="4" height="15" fill="#0000cc"/>
<line x1="658.5" x2="658.5" y1="744" y2="774"/>
<rect x="656.5" y="745.5" width="5" height="22" fill="#fff"/>
<line x1="663.5" x2="663.5" y1="731" y2="749"/>
<rect x="661.5" y="743.5" width="4" height="2" fill="#fff"/>
<line x1="667.5" x2="667.5" y1="717" y2="745"/>
<rect x="665.5" y="723.5" width="4" height="20" fill="#fff"/>
<line x1="671.5" x2="671.5" y1="714" y2="738"/>
<rect x="669.5" y="715.5" width="4" height="8" fill="#fff"/>
<line x1="675.5" x2="675.5" y1="711" y2="724"/>
<rect x="673.5" y="712.5" width="5" height="3" fill="#fff"/>
<line x1="680.5" x2="680.5" y1="708" y2="721"/>
<rect x="678.5" y="711.5" width="4" height="1" fill="#fff"/>
<line x1="684.5" x2="684.5" y1="710" y2="724"/>
<rect x="682.5" y="711.5" width="4" height="1" fill="#0000cc"/>
<line x1="688.5" x2="688.5" y1="703" y2="718"/>
<rect x="686.5" y="707.5" width="5" height="5" fill="#fff"/>
<line x1="693.5" x2="693.5" y1="693" y2="709"/>
<rect x="691.5" y="694.5" width="4" height="13" fill="#fff"/>
<line x1="697.5" x2="697.5" y1="693" y2="707"/>
<rect x="695.5" y="694.5" width="4" height="11" fill="#0000cc"/>
<line x1="701.5" x2="701.5" y1="692" y2="708"/>
<rect x="699.5" y="704.5" width="5" height="1" fill="#fff"/>
<line x1="706.5" x2="706.5" y1="693" y2="708"/>
<rect x="704.5" y="694.5" width="4" height="10" fill="#fff"/>
<line x1="710.5" x2="710.5" y1="683" y2="696"/>
<rect x="708.5" y="686.5" width="4" height="8" fill="#fff"/>
<line x1="714.5" x2="714.5" y1="681" y2="688"/>
<rect x="712.5" y="685.5" width="4" height="1" fill="#fff"/>
<line x1="718.5" x2="718.5" y1="684" y2="696"/>
<rect x="716.5" y="685.5" width="5" height="9" fill="#0000cc"/>
<line x1="723.5" x2="723.5" y1="690" y2="700"/>
<rect x="721.5" y="694.5" width="4" height="5" fill="#0000cc"/>
<line x1="727.5" x2="727.5" y1="692" y2="706"/>
<rect x="725.5" y="699.5" width="4" height="5" fill="#0000cc"/>
<line x1="731.5" x2="731.5" y1="697" y2="710"/>
<rect x="729.5" y="704.5" width="5" height="1" fill="#0000cc"/>
<line x1="736.5" x2="736.5" y1="677" y2="708"/>
<rect x="734.5" y="684.5" width="4" height="20" fill="#fff"/>
<line x1="740.5" x2="740.5" y1="666" y2="685"/>
<rect x="738.5" y="673.5" width="4" height="11" fill="#fff"/>
<line x1="744.5" x2="744.5" y1="668" y2="679"/>
<rect x="742.5" y="669.5" width="4" height="4" fill="#fff"/>
<line x1="748.5" x2="748.5" y1="662" y2="676"/>
<rect x="746.5" y="663.5" width="5" height="6" fill="#fff"/>
<line x1="753.5" x2="753.5" y1="660" y2="665"/>
<rect x="751.5" y="663.5" width="4" height="1" fill="#0000cc"/>
<line x1="757.5" x2="757.5" y1="657" y2="665"/>
<rect x="755.5" y="657.5" width="4" height="6" fill="#fff"/>
<line x1="761.5" x2="761.5" y1="650" y2="664"/>
<rect x="759.5" y="657.5" width="5" height="1" fill="#0000cc"/>
<line x1="766.5" x2="766.5" y1="650" y2="663"/>
<rect x="764.5" y="657.5" width="4" height="2" fill="#0000cc"/>
<line x1="770.5" x2="770.5" y1="651" y2="660"/>
<rect x="768.5" y="652.5" width="4" height="7" fill="#fff"/>
<line x1="774.5" x2="774.5" y1="643" y2="661"/>
<rect x="772.5" y="646.5" width="4" height="6" fill="#fff"/>
<line x1="778.5" x2="778.5" y1="646" y2="656"/>
<rect x="776.5" y="646.5" width="5" height="4" fill="#0000cc"/>
<line x1="783.5" x2="783.5" y1="650" y2="661"/>
<rect x="781.5" y="650.5" width="4" height="4" fill="#0000cc"/>
<line x1="787.5" x2="787.5" y1="635" y2="657"/>
<rect x="785.5" y="642.5" width="4" height="12" fill="#fff"/>
<line x1="791.5" x2="791.5" y1="636" y2="651"/>
<rect x="789.5" y="639.5" width="5" height="3" fill="#fff"/>
<line x1="796.5" x2="796.5" y1="638" y2="652"/>
<rect x="794.5" y="639.5" width="4" height="4" fill="#0000cc"/>
<line x1="800.5" x2="800.5" y1="640" y2="647"/>
<rect x="798.5" y="643.5" width="4" height="2" fill="#0000cc"/>
<line x1="804.5" x2="804.5" y1="632" y2="651"/>
<rect x="802.5" y="635.5" width="4" height="10" fill="#fff"/>
<line x1="808.5" x2="808.5" y1="625" y2="641"/>
<rect x="806.5" y="628.5" width="5" height="7" fill="#fff"/>
<line x1="813.5" x2="813.5" y1="623" y2="635"/>
<rect x="811.5" y="626.5" width="4" height="2" fill="#fff"/>
<line x1="817.5" x2="817.5" y1="623" y2="629"/>
<rect x="815.5" y="624.5" width="4" height="2" fill="#fff"/>
<line x1="821.5" x2="821.5" y1="619" y2="626"/>
<rect x="819.5" y="624.5" width="5" height="1" fill="#0000cc"/>
<line x1="826.5" x2="826.5" y1="621" y2="628"/>
<rect x="824.5" y="622.5" width="4" height="2" fill="#fff"/>
<line x1="830.5" x2="830.5" y1="621" y2="625"/>
<rect x="828.5" y="621.5" width="4" height="1" fill="#0000cc"/>
<line x1="834.5" x2="834.5" y1="613" y2="624"/>
<rect x="832.5" y="620.5" width="4" height="1" fill="#fff"/>
<line x1="838.5" x2="838.5" y1="616" y2="621"/>
<rect x="836.5" y="619.5" width="5" height="1" fill="#0000cc"/>
<line x1="843.5" x2="843.5" y1="615" y2="621"/>
<rect x="841.5" y="616.5" width="4" height="3" fill="#fff"/>
<line x1="847.5" x2="847.5" y1="611" y2="628"/>
<rect x="845.5" y="616.5" width="4" height="6" fill="#0000cc"/>
<line x1="851.5" x2="851.5" y1="620" y2="639"/>
<rect x="849.5" y="622.5" width="5" height="11" fill="#0000cc"/>
<line x1="856.5" x2="856.5" y1="629" y2="639"/>
<rect x="854.5" y="633.5" width="4" height="4" fill="#0000cc"/>
<line x1="860.5" x2="860.5" y1="632" y2="646"/>
<rect x="858.5" y="636.5" width="4" height="1" fill="#0000cc"/>
<line x1="864.5" x2="864.5" y1="626" y2="638"/>
<rect x="862.5" y="630.5" width="4" height="6" fill="#fff"/>
<line x1="868.5" x2="868.5" y1="617" y2="639"/>
<rect x="866.5" y="624.5" width="5" height="6" fill="#fff"/>
<line x1="873.5" x2="873.5" y1="619" y2="633"/>
<rect x="871.5" y="622.5" width="4" height="2" fill="#fff"/>
<line x1="877.5" x2="877.5" y1="616" y2="631"/>
<rect x="875.5" y="617.5" width="4" height="5" fill="#fff"/>
<line x1="881.5" x2="881.5" y1="612" y2="621"/>
<rect x="879.5" y="614.5" width="5" height="3" fill="#fff"/>
<line x1="886.5" x2="886.5" y1="605" y2="616"/>
<rect x="884.5" y="609.5" width="4" height="5" fill="#fff"/>
<line x1="890.5" x2="890.5" y1="604" y2="612"/>
<rect x="888.5" y="605.5" width="4" height="4" fill="#fff"/>
<line x1="894.5" x2="894.5" y1="596" y2="608"/>
<rect x="892.5" y="603.5" width="5" height="2" fill="#fff"/>
<line x1="899.5" x2="899.5" y1="597" y2="605"/>
<rect x="897.5" y="601.5" width="4" height="2" fill="#fff"/>
<line x1="903.5" x2="903.5" y1="593" y2="603"/>
<rect x="901.5" y="597.5" width="4" height="4" fill="#fff"/>
<line x1="907.5" x2="907.5" y1="594" y2="600"/>
<rect x="905.5" y="595.5" width="4" height="2" fill="#fff"/>
<line x1="911.5" x2="911.5" y1="592" y2="617"/>
<rect x="909.5" y="595.5" width="5" height="15" fill="#0000cc"/>
<line x1="916.5" x2="916.5" y1="605" y2="625"/>
<rect x="914.5" y="610.5" width="4" height="9" fill="#0000cc"/>
<line x1="920.5" x2="920.5" y1="616" y2="629"/>
<rect x="918.5" y="619.5" width="4" height="4" fill="#0000cc"/>
<line x1="924.5" x2="924.5" y1="618" y2="636"/>
<rect x="922.5" y="623.5" width="5" height="9" fill="#0000cc"/>
<line x1="929.5" x2="929.5" y1="631" y2="643"/>
<rect x="927.5" y="632.5" width="4" height="5" fill="#0000cc"/>
<line x1="933.5" x2="933.5" y1="632" y2="644"/>
<rect x="931.5" y="635.5" width="4" height="2" fill="#fff"/>
<line x1="937.5" x2="937.5" y1="618" y2="637"/>
<rect x="935.5" y="625.5" width="4" height="10" fill="#fff"/>
<line x1="941.5" x2="941.5" y1="622" y2="633"/>
<rect x="939.5" y="625.5" width="5" height="2" fill="#0000cc"/>
<line x1="946.5" x2="946.5" y1="620" y2="651"/>
<rect x="944.5" y="627.5" width="4" height="15" fill="#0000cc"/>
<line x1="950.5" x2="950.5" y1="638" y2="644"/>
<rect x="948.5" y="639.5" width="4" height="3" fill="#fff"/>
<line x1="954.5" x2="954.5" y1="628" y2="646"/>
<rect x="952.5" y="632.5" width="5" height="7" fill="#fff"/>
<line x1="959.5" x2="959.5" y1="626" y2="633"/>
<rect x="957.5" y="627.5" width="4" height="5" fill="#fff"/>
<line x1="963.5" x2="963.5" y1="621" y2="633"/>
<rect x="961.5" y="622.5" width="4" height="5" fill="#fff"/>
<line x1="967.5" x2="967.5" y1="616" y2="628"/>
<rect x="965.5" y="617.5" width="4" height="5" fill="#fff"/>
<line x1="971.5" x2="971.5" y1="616" y2="629"/>
<rect x="969.5" y="617.5" width="5" height="5" fill="#0000cc"/>
<line x1="976.5" x2="976.5" y1="622" y2="634"/>
<rect x="974.5" y="622.5" width="4" height="6" fill="#0000cc"/>
<line x1="980.5" x2="980.5" y1="626" y2="637"/>
<rect x="978.5" y="628.5" width="4" height="2" fill="#0000cc"/>
<line x1="984.5" x2="984.5" y1="622" y2="639"/>
<rect x="982.5" y="625.5" width="5" height="5" fill="#fff"/>
<line x1="989.5" x2="989.5" y1="620" y2="631"/>
<rect x="987.5" y="621.5" width="4" height="4" fill="#fff"/>
<line x1="993.5" x2="993.5" y1="614" y2="624"/>
<rect x="991.5" y="618.5" width="4" height="3" fill="#fff"/>
<line x1="997.5" x2="997.5" y1="602" y2="620"/>
<rect x="995.5" y="609.5" width="4" height="9" fill="#fff"/>
<line x1="1001.5" x2="1001.5" y1="605" y2="612"/>
<rect x="999.5" y="606.5" width="5" height="3" fill="#fff"/>
<line x1="1006.5" x2="1006.5" y1="598" y2="610"/>
<rect x="1004.5" y="602.5" width="4" height="4" fill="#fff"/>
<line x1="1010.5" x2="1010.5" y1="597" y2="609"/>
<rect x="1008.5" y="598.5" width="4" height="4" fill="#fff"/>
<line x1="1014.5" x2="1014.5" y1="594" y2="602"/>
<rect x="1012.5" y="598.5" width="5" height="1" fill="#fff"/>
<line x1="1019.5" x2="1019.5" y1="596" y2="604"/>
<rect x="1017.5" y="597.5" width="4" height="1" fill="#fff"/>
<line x1="1023.5" x2="1023.5" y1="592" y2="600"/>
<rect x="1021.5" y="594.5" width="4" height="3" fill="#fff"/>
<line x1="1027.5" x2="1027.5" y1="584" y2="595"/>
<rect x="1025.5" y="586.5" width="4" height="8" fill="#fff"/>
<line x1="1031.5" x2="1031.5" y1="582" y2="598"/>
<rect x="1029.5" y="586.5" width="5" height="6" fill="#0000cc"/>
<line x1="1036.5" x2="1036.5" y1="592" y2="595"/>
<rect x="1034.5" y="592.5" width="4" height="1" fill="#0000cc"/>
<line x1="1040.5" x2="1040.5" y1="592" y2="596"/>
<rect x="1038.5" y="593.5" width="4" height="1" fill="#0000cc"/>
<line x1="1044.5" x2="1044.5" y1="580" y2="603"/>
<rect x="1042.5" y="585.5" width="5" height="9" fill="#fff"/>
<line x1="1049.5" x2="1049.5" y1="582" y2="587"/>
<rect x="1047.5" y="585.5" width="4" height="1" fill="#0000cc"/>
<line x1="1053.5" x2="1053.5" y1="584" y2="589"/>
<rect x="1051.5" y="585.5" width="4" height="1" fill="#0000cc"/>
<line x1="1057.5" x2="1057.5" y1="586" y2="588"/>
<rect x="1055.5" y="586.5" width="5" height="1" fill="#0000cc"/>
<line x1="1062.5" x2="1062.5" y1="584" y2="588"/>
<rect x="1060.5" y="586.5" width="4" height="1" fill="#0000cc"/>
<line x1="1066.5" x2="1066.5" y1="585" y2="589"/>
<rect x="1064.5" y="586.5" width="4" height="1" fill="#0000cc"/>
<line x1="1070.5" x2="1070.5" y1="584" y2="588"/>
<rect x="1068.5" y="585.5" width="4" height="1" fill="#fff"/>
</g>
<line x1="1050.5" x2="1050.5" y1="441.4" y2="832" stroke="#33cc00" stroke-width="1.3"/>
<g clip-path="url(#c2)" stroke-linejoin="round">
<polyline fill="none" stroke="#ff0000" stroke-width="1.0"  points="11.2,577.5 18.8,572 27.5,572.5 37.5,570 50,569.5 62.5,567.5 70,569.5 80,578 90,575 100,567.5 110,557.5 120,548 130,540 140,533 150,531.2 157.5,528.8 167.5,532 180,528.8 190,528 197.5,523.8 207.5,522 217.5,520 227.5,519.5 235,512.5 242.5,497.5 250,481.2 257.5,468.8 265,465 272.5,467.5 280,475 287.5,478 300,478 307.5,476.2 315,477.5 322.5,478.8 330,470 336.2,463.8 342,463.8 354.5,462 367,459.2 379.5,460 389.5,465 397,472.5 402,464.2 409.5,470 422,468.8 429.5,480 437,497.5 444.5,518.8 452,523.8 462,511.2 474.5,498.8 482,498 492,505 499.5,488.8 508.2,473.8 517,482.5 527,505 537,532.5 544.5,555 552,562 557,555 560.8,525 564.5,492.5 572,470.5 582,478.8 589.5,490 597,517.5 603.2,557.5 608.2,600 613.2,642.5 614.5,651.2 627,650 637,661.2 644.5,650 654.5,635.5 662,640 669.5,655 677,667.5 684,669.5 694,660 705.2,654.5 714,660 721.5,670 730.2,673 739,665 749,647.5 759,627.5 769,615 777.8,610 784,620 791.5,626.2 799,625 806.5,618.8 816.5,607.5 826.5,600 834,598 841.5,597.5 849,597 856.5,603 869,602 881.5,598.8 891.5,588.8 901.5,575 907.8,569.5 914,572.5 919,577.5 931.5,568.8 939,568 949,567.5 956.5,577.5 964,595 971.5,600 984,601.2 996.5,596.2 1001.1,591.4 1005,592.7 1009,588.8 1014.3,583.5 1019.5,575.6 1024.8,565.7 1030.1,562.4 1035.3,562.4 1039.3,567 1044.6,567.4 1048.8,568.3"/>
<polyline fill="none" stroke="#ff0000" stroke-width="1.0"  points="11.2,583 18.8,577.5 27.5,578.8 40,576.8 55,575.5 67.5,576.2 80,584.2 90,581.2 100,574.2 110,565 120,556.2 130,548 140,541.8 150,538.8 160,537.5 170,538.8 180,536.2 190,535 200,530 212.5,528.2 227.5,526.2 235,520 242.5,507.5 250,493.8 257.5,485 267.5,483 277.5,485.5 287.5,486.8 300,485.8 312.5,486.2 322.5,487.5 330,482 337.5,477 342,478.8 354.5,475.8 367,473.8 379.5,475 389.5,481.2 395.8,486.2 402,481.2 414.5,486.2 422,490 429.5,498.8 437,512.5 444.5,528.8 452,530 462,518.8 474.5,507.5 482,506.2 492,511.2 499.5,505 508.2,498.8 517,506.2 527,523.8 537,542.5 544.5,562.5 552,569.5 557,563.8 562,535 567,522.5 573.2,517 582,530 589.5,545 597,565 603.2,597.5 608.2,625 613.2,660 617,663.8 627,663.8 637,672.5 644.5,667.5 654.5,658.8 664.5,668.8 672,682.5 678.2,688.8 684,688.8 694,680 705.2,675.5 716.5,679.5 729,681.8 737.8,675 749,660 759,645 769,633.8 777.8,629.5 786.5,635 796.5,635.5 806.5,627.5 816.5,618 826.5,611.2 836.5,607.5 846.5,605 856.5,610 869,609.5 881.5,606.2 891.5,598.8 901.5,587.5 909,583.2 919,586.2 931.5,583 939,582.5 951.5,587.5 959,600 966.5,611.2 974,612 984,611.2 996.5,607 999.8,604.6 1006.4,599.3 1012.9,592.7 1019.5,586.1 1024.8,579.5 1030.1,576.9 1035.3,576.2 1039.3,578.2 1044.6,577.6 1048.8,577.6"/>
<polyline fill="none" stroke="#ff0000" stroke-width="1.0"  points="11.2,588.8 18.8,583.8 27.5,584.2 40,583.2 55,582 67.5,583 80,590 90,587.5 100,581.2 110,572.5 120,564.2 130,556.8 140,550 150,546.2 160,544.5 170,544.5 180,542.5 190,540.5 200,537.5 212.5,535.5 227.5,533.8 235,528.8 242.5,518.8 250,507.5 260,500 270,498.8 280,496.2 290,493.8 300,494.5 312.5,496.2 322.5,497.5 330,493.8 337.5,490.5 342,490.5 354.5,488.8 367,487 379.5,487.5 389.5,492.5 397,498.8 404.5,497.5 417,505 429.5,512.5 437,521.2 444.5,535 452,537.5 462,530 474.5,527 492,527 499.5,524.5 508.2,524.2 517,532.5 527,545 537,557.5 544.5,570 552,576.2 557,573.8 562,565 567,561.2 574.5,566.2 582,580 589.5,597.5 597,612.5 604.5,637.5 610.8,660 615.8,675 627,677.5 637,685 644.5,685 654.5,685 664.5,696.2 672,707.5 678.2,710 684,708.8 694,701.2 705.2,696.2 716.5,690 729,690 737.8,685 749,672.5 759,661.2 769,651.2 777.8,647.5 786.5,647.5 796.5,641.2 806.5,635 816.5,627.5 826.5,622 836.5,618.8 846.5,615.5 856.5,617 869,617 881.5,614.5 891.5,608.8 901.5,601.2 909,597.5 919,597 931.5,597.5 944,601.2 954,608.8 961.5,616.2 969,620 979,619.5 989,618.8 996.5,616.2 999.8,615.1 1006.4,609.8 1012.9,604.6 1019.5,600 1024.8,596 1030.1,592 1035.3,590.1 1040.6,588.1 1045.9,586.4 1048.8,585.9"/>
<polyline fill="none" stroke="#ff0000" stroke-width="1.0"  points="11.2,601.2 25,596.2 40,597 55,599.5 67.5,602.5 80,602.5 92.5,601.2 102.5,598.8 112.5,595 122.5,588.8 132.5,582 142.5,576.2 155,568.8 165,562.5 175,558.8 187.5,554.5 200,550 212.5,550 225,550 240,550.5 255,548.8 265,538.8 275,527.5 285,516.2 292.5,511.2 302.5,513 315,516.2 325,517 335,515.5 342,515 354.5,513.8 367,515.5 379.5,513.8 389.5,518 397,530 407,541.2 417,550 427,555 437,560 444.5,558.8 454.5,557.5 467,556.2 482,553.8 492,551.2 497,561.2 507,577.5 517,587.5 527,589.2 539.5,589.2 552,588.8 559.5,597.5 564.5,625 572,650 579.5,665 589.5,690 597,703.8 604.5,708 612,702.5 617,700 627,703.8 637,710 644.5,715 652,735 659.5,745 667,745.5 684,744.5 694,744.5 701.5,740 711.5,717.5 721.5,710 734,707.5 746.5,701.2 759,697.5 771.5,693.8 779,686.2 784,671.2 791.5,660 804,655 816.5,651.2 829,646.2 839,638.8 846.5,636.2 859,632.5 871.5,631.2 884,631.2 896.5,631.2 906.5,628.8 916.5,620 926.5,623.8 939,628.8 949,637.5 956.5,640 966.5,638 979,638 989,636.2 996.5,635 1001.1,634.2 1005,629.6 1012.9,626.3 1019.5,625 1026.1,623.7 1030.1,621.7 1035.3,617.1 1040.6,611.2 1045.9,606.5 1048.8,604.3"/>
<polyline fill="none" stroke="#ff0000" stroke-width="1.0"  points="11.2,607.5 25,602 40,603.8 52.5,606.2 65,611.2 80,608 92.5,608.8 102.5,608.8 113.8,608.8 122.5,600 132.5,593 142.5,587.5 155,577.5 165,568.8 175,565.5 187.5,561.2 200,557.5 212.5,557.5 225,557.5 235,560 245,565 255,568.8 262.5,561.2 272.5,543.8 282.5,528.8 292.5,518.8 302.5,520.5 312.5,524.5 322.5,526.2 332.5,527.5 342,528.8 354.5,525 367,529.5 379.5,527 389.5,531.2 397,545 407,560 417,567.5 427,575 435.8,577.5 444.5,570 452,567.5 467,570 482,568.8 492,563.8 497,577.5 504.5,595 512,606.2 522,612 532,607.5 542,600 552,597.5 557,600 563.2,650 569.5,680 577,710 582,725 589.5,745 597,750 604.5,743.8 612,720 617,711.2 627,716.2 637,721.2 644.5,728.8 652,752.5 658.2,767.5 663.2,771.2 672,765 684,762.5 694,765.5 701.5,762.5 709,742.5 716.5,725 724,718.8 734,715.8 744,715 749,717.5 759,713.8 771.5,711.2 780.2,705 784,687.5 791.5,672.5 801.5,666.2 811.5,665 824,661.2 834,656.2 841.5,646.2 851.5,642.5 859,640 871.5,639.5 884,640.5 896.5,643 904,644.5 911.5,638.8 919,630 926.5,636.2 934,645 944,648.8 949,655 956.5,654.5 966.5,647.5 979,647 989,643.8 996.5,644.8 1001.1,645.4 1005,640.1 1012.9,638.2 1019.5,637.2 1026.1,638.8 1030.1,637.5 1035.3,630.9 1039.3,623 1044.6,617.7 1048.8,613.1"/>
<polyline fill="none" stroke="#ff0000" stroke-width="1.0"  points="11.2,613 25,608 37.5,610.5 50,612 62.5,618.8 67.5,620 80,614.2 92.5,617 102.5,617.5 113.8,620 122.5,611.2 132.5,610 137.5,603.8 147.5,597.5 157.5,586.2 167.5,574.5 180,571.2 192.5,567.5 202.5,565 212.5,565.5 225,565.5 235,570 245,581.2 255,588 262.5,581.2 272.5,561.2 282.5,538.8 292.5,525.8 300,527.5 307.5,532 317.5,533.8 327.5,536.2 335,540 342,542.5 354.5,538.8 367,544.5 379.5,540.5 389.5,545 397,560 407,577.5 417,586.2 427,593.8 435.8,596.2 444.5,582.5 452,576.2 467,584.2 482,582.5 492,572.5 497,590 504.5,615 512,630 519.5,635.5 527,631.2 534.5,620 544.5,611.2 552,610 558.2,607.5 564.5,687.5 572,750 579.5,770 589.5,796.2 599.5,793.8 607,770 612,732.5 617,723.8 627,727.5 637,730 644.5,745 652,780 658.2,792.5 663.2,797 669.5,792.5 677,785 684,781.2 694,786.2 701.5,785 709,762.5 716.5,737.5 724,727.5 734,723.8 744,727.5 749,732 759,730.5 771.5,731.2 779,725 784,705 789,685 796.5,677.5 806.5,675 816.5,674.5 826.5,671.2 834,667.5 841.5,656.2 851.5,650 859,645.5 871.5,647 884,650 896.5,656.2 904,658.8 911.5,651.2 919,640 926.5,647.5 934,657.5 944,662.5 949,671.2 956.5,672 966.5,657.5 979,656.2 989,653.8 996.5,655.8 1001.1,656.6 1005,648.7 1012.9,647.4 1019.5,650.7 1026.1,654.6 1030.1,652.7 1034,646.7 1038,634.9 1043.2,628.3 1048.8,622.4"/>
<polyline fill="none" stroke="#505050" stroke-width="1"  points="11.2,595 25,590 40,589.5 55,591.2 67.5,593.8 80,595.8 92.5,595 102.5,591.2 112.5,587 122.5,580 132.5,572.5 142.5,565.5 155,558.8 165,553.8 175,550 187.5,545 200,542.5 212.5,543 225,542.5 235,538.8 245,535 255,530 265,521.2 275,512.5 285,505 295,502.5 305,504.5 315,506.2 325,507 335,503.8 342,502.5 354.5,501.2 367,502 379.5,501.2 389.5,505 397,513.8 407,522.5 417,527.5 427,535 437,543.8 444.5,549.2 452,549.5 462,545 474.5,540.5 482,538.8 492,539.2 499.5,543.8 512,556.2 522,566.2 534.5,575 544.5,581.2 554.5,583.8 562,590 569.5,605 577,617.5 584.5,632.5 589.5,643.8 597,660 604.5,675 612,685 617,688.8 627,690 637,696.2 644.5,698.8 654.5,710 662,720 672,725 684,726.2 694,723.8 701.5,720 709,710 721.5,698.8 734,696.2 746.5,686.2 759,677.5 771.5,671.2 781.5,661.2 791.5,651.2 804,645 816.5,638.8 829,633.8 839,628.8 846.5,625 859,624.5 871.5,623.8 884,621.2 896.5,617.5 906.5,612 916.5,608.8 926.5,610 939,612.5 949,618.8 959,625 969,628.8 979,628.8 989,626.2 996.5,624.5 1001.1,624.3 1006.4,619.7 1012.9,615.8 1019.5,612.5 1024.8,609.8 1030.1,607.2 1035.3,603.2 1040.6,600 1045.9,597.3 1048.8,595.6"/>
</g>
<g fill="#99ccff" stroke="#0000cc" stroke-width="1" shape-rendering="crispEdges">
<rect x="9.5" y="812.5" width="4" height="56"/>
<rect x="13.5" y="809.5" width="4" height="59"/>
<rect x="17.5" y="811.5" width="5" height="57"/>
<rect x="22.5" y="812.5" width="4" height="56"/>
<rect x="26.5" y="802.5" width="4" height="66"/>
<rect x="30.5" y="806.5" width="5" height="62"/>
<rect x="35.5" y="823.5" width="4" height="45"/>
<rect x="39.5" y="804.5" width="4" height="64"/>
<rect x="43.5" y="801.5" width="4" height="67"/>
<rect x="47.5" y="817.5" width="5" height="51"/>
<rect x="52.5" y="810.5" width="4" height="58"/>
<rect x="56.5" y="835.5" width="4" height="33"/>
<rect x="60.5" y="816.5" width="5" height="52"/>
<rect x="65.5" y="810.5" width="4" height="58"/>
<rect x="69.5" y="811.5" width="4" height="57"/>
<rect x="73.5" y="811.5" width="4" height="57"/>
<rect x="77.5" y="817.5" width="5" height="51"/>
<rect x="82.5" y="819.5" width="4" height="49"/>
<rect x="86.5" y="830.5" width="4" height="38"/>
<rect x="90.5" y="826.5" width="5" height="42"/>
<rect x="95.5" y="831.5" width="4" height="37"/>
<rect x="99.5" y="810.5" width="4" height="58"/>
<rect x="103.5" y="817.5" width="4" height="51"/>
<rect x="107.5" y="814.5" width="5" height="54"/>
<rect x="112.5" y="813.5" width="4" height="55"/>
<rect x="116.5" y="819.5" width="4" height="49"/>
<rect x="120.5" y="816.5" width="5" height="52"/>
<rect x="125.5" y="812.5" width="4" height="56"/>
<rect x="129.5" y="814.5" width="4" height="54"/>
<rect x="133.5" y="814.5" width="4" height="54"/>
<rect x="137.5" y="813.5" width="5" height="55"/>
<rect x="142.5" y="835.5" width="4" height="33"/>
<rect x="146.5" y="809.5" width="4" height="59"/>
<rect x="150.5" y="819.5" width="5" height="49"/>
<rect x="155.5" y="815.5" width="4" height="53"/>
<rect x="159.5" y="822.5" width="4" height="46"/>
<rect x="163.5" y="843.5" width="4" height="25"/>
<rect x="167.5" y="831.5" width="5" height="37"/>
<rect x="172.5" y="815.5" width="4" height="53"/>
<rect x="176.5" y="826.5" width="4" height="42"/>
<rect x="180.5" y="815.5" width="5" height="53"/>
<rect x="185.5" y="815.5" width="4" height="53"/>
<rect x="189.5" y="817.5" width="4" height="51"/>
<rect x="193.5" y="822.5" width="5" height="46"/>
<rect x="198.5" y="830.5" width="4" height="38"/>
<rect x="202.5" y="798.5" width="4" height="70"/>
<rect x="206.5" y="811.5" width="4" height="57"/>
<rect x="210.5" y="807.5" width="5" height="61"/>
<rect x="215.5" y="817.5" width="4" height="51"/>
<rect x="219.5" y="817.5" width="4" height="51"/>
<rect x="223.5" y="829.5" width="5" height="39"/>
<rect x="228.5" y="821.5" width="4" height="47"/>
<rect x="232.5" y="813.5" width="4" height="55"/>
<rect x="236.5" y="815.5" width="4" height="53"/>
<rect x="240.5" y="813.5" width="5" height="55"/>
<rect x="245.5" y="819.5" width="4" height="49"/>
<rect x="249.5" y="817.5" width="4" height="51"/>
<rect x="253.5" y="817.5" width="5" height="51"/>
<rect x="258.5" y="825.5" width="4" height="43"/>
<rect x="262.5" y="816.5" width="4" height="52"/>
<rect x="266.5" y="815.5" width="4" height="53"/>
<rect x="270.5" y="811.5" width="5" height="57"/>
<rect x="275.5" y="813.5" width="4" height="55"/>
<rect x="279.5" y="836.5" width="4" height="32"/>
<rect x="283.5" y="817.5" width="5" height="51"/>
<rect x="288.5" y="814.5" width="4" height="54"/>
<rect x="292.5" y="796.5" width="4" height="72"/>
<rect x="296.5" y="795.5" width="4" height="73"/>
<rect x="300.5" y="783.5" width="5" height="85"/>
<rect x="305.5" y="794.5" width="4" height="74"/>
<rect x="309.5" y="822.5" width="4" height="46"/>
<rect x="313.5" y="824.5" width="5" height="44"/>
<rect x="318.5" y="831.5" width="4" height="37"/>
<rect x="322.5" y="825.5" width="4" height="43"/>
<rect x="326.5" y="816.5" width="4" height="52"/>
<rect x="330.5" y="824.5" width="5" height="44"/>
<rect x="335.5" y="826.5" width="4" height="42"/>
<rect x="339.5" y="829.5" width="4" height="39"/>
<rect x="343.5" y="821.5" width="5" height="47"/>
<rect x="348.5" y="819.5" width="4" height="49"/>
<rect x="352.5" y="819.5" width="4" height="49"/>
<rect x="356.5" y="809.5" width="4" height="59"/>
<rect x="360.5" y="814.5" width="5" height="54"/>
<rect x="365.5" y="829.5" width="4" height="39"/>
<rect x="369.5" y="814.5" width="4" height="54"/>
<rect x="373.5" y="823.5" width="5" height="45"/>
<rect x="378.5" y="819.5" width="4" height="49"/>
<rect x="382.5" y="815.5" width="4" height="53"/>
<rect x="386.5" y="845.5" width="5" height="23"/>
<rect x="391.5" y="831.5" width="4" height="37"/>
<rect x="395.5" y="804.5" width="4" height="64"/>
<rect x="399.5" y="801.5" width="4" height="67"/>
<rect x="403.5" y="804.5" width="5" height="64"/>
<rect x="408.5" y="807.5" width="4" height="61"/>
<rect x="412.5" y="817.5" width="4" height="51"/>
<rect x="416.5" y="819.5" width="5" height="49"/>
<rect x="421.5" y="829.5" width="4" height="39"/>
<rect x="425.5" y="817.5" width="4" height="51"/>
<rect x="429.5" y="813.5" width="4" height="55"/>
<rect x="433.5" y="809.5" width="5" height="59"/>
<rect x="438.5" y="809.5" width="4" height="59"/>
<rect x="442.5" y="819.5" width="4" height="49"/>
<rect x="446.5" y="819.5" width="5" height="49"/>
<rect x="451.5" y="826.5" width="4" height="42"/>
<rect x="455.5" y="824.5" width="4" height="44"/>
<rect x="459.5" y="824.5" width="4" height="44"/>
<rect x="463.5" y="824.5" width="5" height="44"/>
<rect x="468.5" y="828.5" width="4" height="40"/>
<rect x="472.5" y="828.5" width="4" height="40"/>
<rect x="476.5" y="828.5" width="5" height="40"/>
<rect x="481.5" y="835.5" width="4" height="33"/>
<rect x="485.5" y="824.5" width="4" height="44"/>
<rect x="489.5" y="824.5" width="4" height="44"/>
<rect x="493.5" y="822.5" width="5" height="46"/>
<rect x="498.5" y="817.5" width="4" height="51"/>
<rect x="502.5" y="830.5" width="4" height="38"/>
<rect x="506.5" y="815.5" width="5" height="53"/>
<rect x="511.5" y="809.5" width="4" height="59"/>
<rect x="515.5" y="819.5" width="4" height="49"/>
<rect x="519.5" y="823.5" width="4" height="45"/>
<rect x="523.5" y="825.5" width="5" height="43"/>
<rect x="528.5" y="829.5" width="4" height="39"/>
<rect x="532.5" y="835.5" width="4" height="33"/>
<rect x="536.5" y="838.5" width="5" height="30"/>
<rect x="541.5" y="835.5" width="4" height="33"/>
<rect x="545.5" y="817.5" width="4" height="51"/>
<rect x="549.5" y="790.5" width="5" height="78"/>
<rect x="554.5" y="828.5" width="4" height="40"/>
<rect x="558.5" y="815.5" width="4" height="53"/>
<rect x="562.5" y="795.5" width="4" height="73"/>
<rect x="566.5" y="807.5" width="5" height="61"/>
<rect x="571.5" y="819.5" width="4" height="49"/>
<rect x="575.5" y="817.5" width="4" height="51"/>
<rect x="579.5" y="825.5" width="5" height="43"/>
<rect x="584.5" y="819.5" width="4" height="49"/>
<rect x="588.5" y="807.5" width="4" height="61"/>
<rect x="592.5" y="828.5" width="4" height="40"/>
<rect x="596.5" y="816.5" width="5" height="52"/>
<rect x="601.5" y="819.5" width="4" height="49"/>
<rect x="605.5" y="815.5" width="4" height="53"/>
<rect x="609.5" y="847.5" width="5" height="21"/>
<rect x="614.5" y="840.5" width="4" height="28"/>
<rect x="618.5" y="826.5" width="4" height="42"/>
<rect x="622.5" y="819.5" width="4" height="49"/>
<rect x="626.5" y="825.5" width="5" height="43"/>
<rect x="631.5" y="822.5" width="4" height="46"/>
<rect x="635.5" y="819.5" width="4" height="49"/>
<rect x="639.5" y="821.5" width="5" height="47"/>
<rect x="644.5" y="824.5" width="4" height="44"/>
<rect x="648.5" y="807.5" width="4" height="61"/>
<rect x="652.5" y="806.5" width="4" height="62"/>
<rect x="656.5" y="809.5" width="5" height="59"/>
<rect x="661.5" y="801.5" width="4" height="67"/>
<rect x="665.5" y="810.5" width="4" height="58"/>
<rect x="669.5" y="815.5" width="5" height="53"/>
<rect x="674.5" y="830.5" width="4" height="38"/>
<rect x="678.5" y="813.5" width="4" height="55"/>
<rect x="682.5" y="812.5" width="4" height="56"/>
<rect x="686.5" y="821.5" width="5" height="47"/>
<rect x="691.5" y="807.5" width="4" height="61"/>
<rect x="695.5" y="816.5" width="4" height="52"/>
<rect x="699.5" y="822.5" width="5" height="46"/>
<rect x="704.5" y="828.5" width="4" height="40"/>
<rect x="708.5" y="822.5" width="4" height="46"/>
<rect x="712.5" y="831.5" width="4" height="37"/>
<rect x="716.5" y="822.5" width="5" height="46"/>
<rect x="721.5" y="819.5" width="4" height="49"/>
<rect x="725.5" y="841.5" width="4" height="27"/>
<rect x="729.5" y="830.5" width="5" height="38"/>
<rect x="734.5" y="828.5" width="4" height="40"/>
<rect x="738.5" y="829.5" width="4" height="39"/>
<rect x="742.5" y="825.5" width="5" height="43"/>
<rect x="747.5" y="819.5" width="4" height="49"/>
<rect x="751.5" y="832.5" width="4" height="36"/>
<rect x="755.5" y="829.5" width="4" height="39"/>
<rect x="759.5" y="829.5" width="5" height="39"/>
<rect x="764.5" y="824.5" width="4" height="44"/>
<rect x="768.5" y="832.5" width="4" height="36"/>
<rect x="772.5" y="814.5" width="5" height="54"/>
<rect x="777.5" y="825.5" width="4" height="43"/>
<rect x="781.5" y="822.5" width="4" height="46"/>
<rect x="785.5" y="830.5" width="4" height="38"/>
<rect x="789.5" y="826.5" width="5" height="42"/>
<rect x="794.5" y="825.5" width="4" height="43"/>
<rect x="798.5" y="817.5" width="4" height="51"/>
<rect x="802.5" y="831.5" width="5" height="37"/>
<rect x="807.5" y="832.5" width="4" height="36"/>
<rect x="811.5" y="832.5" width="4" height="36"/>
<rect x="815.5" y="845.5" width="4" height="23"/>
<rect x="819.5" y="826.5" width="5" height="42"/>
<rect x="824.5" y="832.5" width="4" height="36"/>
<rect x="828.5" y="813.5" width="4" height="55"/>
<rect x="832.5" y="848.5" width="5" height="20"/>
<rect x="837.5" y="850.5" width="4" height="18"/>
<rect x="841.5" y="831.5" width="4" height="37"/>
<rect x="845.5" y="832.5" width="4" height="36"/>
<rect x="849.5" y="834.5" width="5" height="34"/>
<rect x="854.5" y="826.5" width="4" height="42"/>
<rect x="858.5" y="825.5" width="4" height="43"/>
<rect x="862.5" y="829.5" width="5" height="39"/>
<rect x="867.5" y="840.5" width="4" height="28"/>
<rect x="871.5" y="832.5" width="4" height="36"/>
<rect x="875.5" y="835.5" width="4" height="33"/>
<rect x="879.5" y="833.5" width="5" height="35"/>
<rect x="884.5" y="829.5" width="4" height="39"/>
<rect x="888.5" y="833.5" width="4" height="35"/>
<rect x="892.5" y="842.5" width="5" height="26"/>
<rect x="897.5" y="834.5" width="4" height="34"/>
<rect x="901.5" y="828.5" width="4" height="40"/>
<rect x="905.5" y="828.5" width="4" height="40"/>
<rect x="909.5" y="819.5" width="5" height="49"/>
<rect x="914.5" y="822.5" width="4" height="46"/>
<rect x="918.5" y="819.5" width="4" height="49"/>
<rect x="922.5" y="807.5" width="5" height="61"/>
<rect x="927.5" y="815.5" width="4" height="53"/>
<rect x="931.5" y="830.5" width="4" height="38"/>
<rect x="935.5" y="821.5" width="5" height="47"/>
<rect x="940.5" y="825.5" width="4" height="43"/>
<rect x="944.5" y="821.5" width="4" height="47"/>
<rect x="948.5" y="824.5" width="4" height="44"/>
<rect x="952.5" y="836.5" width="5" height="32"/>
<rect x="957.5" y="830.5" width="4" height="38"/>
<rect x="961.5" y="830.5" width="4" height="38"/>
<rect x="965.5" y="831.5" width="5" height="37"/>
<rect x="970.5" y="836.5" width="4" height="32"/>
<rect x="974.5" y="836.5" width="4" height="32"/>
<rect x="978.5" y="835.5" width="4" height="33"/>
<rect x="982.5" y="832.5" width="5" height="36"/>
<rect x="987.5" y="832.5" width="4" height="36"/>
<rect x="991.5" y="847.5" width="4" height="21"/>
<rect x="995.5" y="831.5" width="5" height="37"/>
<rect x="1000.5" y="835.5" width="4" height="33"/>
<rect x="1004.5" y="832.5" width="4" height="36"/>
<rect x="1008.5" y="835.5" width="4" height="33"/>
<rect x="1012.5" y="831.5" width="5" height="37"/>
<rect x="1017.5" y="833.5" width="4" height="35"/>
<rect x="1021.5" y="834.5" width="4" height="34"/>
<rect x="1025.5" y="830.5" width="5" height="38"/>
<rect x="1030.5" y="834.5" width="4" height="34"/>
<rect x="1034.5" y="831.5" width="4" height="37"/>
<rect x="1038.5" y="847.5" width="4" height="21"/>
<rect x="1042.5" y="830.5" width="5" height="38"/>
<rect x="1047.5" y="831.5" width="4" height="37"/>
<rect x="1051.5" y="863.5" width="4" height="5"/>
<rect x="1055.5" y="858.5" width="5" height="10"/>
<rect x="1060.5" y="862.5" width="4" height="6"/>
<rect x="1064.5" y="863.5" width="4" height="5"/>
<rect x="1068.5" y="862.5" width="4" height="6"/>
</g>
<line x1="1051" x2="1152.6" y1="857.7" y2="857.7" stroke="#9a9ae0" stroke-width="1"/>
<line x1="1149.6" x2="1149.6" y1="441.4" y2="870" stroke="#9a9ae0" stroke-width="1.2"/>
<line x1="8.2" x2="1153.2" y1="441.4" y2="441.4" stroke="#000" stroke-width="1.25"/>
<line x1="8.8" x2="8.8" y1="441.4" y2="870" stroke="#000" stroke-width="1.25"/>
<line x1="1152.6" x2="1152.6" y1="441.4" y2="870" stroke="#000" stroke-width="1.2"/>
<line x1="8.1" x2="1153.2" y1="869.5" y2="869.5" stroke="#000" stroke-width="1.3"/>
<text x="169" y="453.5" font-size="12.5" text-anchor="start" fill="#000" font-weight="normal" class="num" textLength="5.3" lengthAdjust="spacingAndGlyphs">7</text>
<text x="392" y="453.5" font-size="12.5" text-anchor="start" fill="#000" font-weight="normal" class="num" textLength="5.3" lengthAdjust="spacingAndGlyphs">8</text>
<text x="615" y="453.5" font-size="12.5" text-anchor="start" fill="#000" font-weight="normal" class="num" textLength="5.3" lengthAdjust="spacingAndGlyphs">9</text>
<text x="842" y="453.5" font-size="12.5" text-anchor="start" fill="#000" font-weight="normal" class="num" textLength="10.6" lengthAdjust="spacingAndGlyphs">10</text>
<text x="1120.8" y="484.6" font-size="12.5" text-anchor="start" fill="#000" font-weight="normal" class="num" textLength="28.5" lengthAdjust="spacingAndGlyphs">14000</text>
<text x="1120.8" y="561.5" font-size="12.5" text-anchor="start" fill="#000" font-weight="normal" class="num" textLength="28.5" lengthAdjust="spacingAndGlyphs">12000</text>
<text x="1120.8" y="637.5" font-size="12.5" text-anchor="start" fill="#000" font-weight="normal" class="num" textLength="28.5" lengthAdjust="spacingAndGlyphs">10000</text>
<text x="1109.4" y="786.3" font-size="12.5" text-anchor="start" fill="#000" font-weight="normal" class="num" textLength="39.9" lengthAdjust="spacingAndGlyphs">1200000</text>
<text x="1115.1" y="827.6" font-size="12.5" text-anchor="start" fill="#000" font-weight="normal" class="num" textLength="34.2" lengthAdjust="spacingAndGlyphs">600000</text>
<text x="1143.6" y="868" font-size="12.5" text-anchor="start" fill="#000" font-weight="normal" class="num" textLength="5.7" lengthAdjust="spacingAndGlyphs">0</text>
<text x="1054" y="467" font-size="12" text-anchor="start" fill="#33cc00" font-weight="normal" class="jp" textLength="89" lengthAdjust="spacingAndGlyphs">-&gt; ここから日足</text>
<line x1="16.6" x2="1160.5" y1="925.5" y2="925.5" stroke="#c4c4c4" stroke-width="1"/>
<line x1="16.6" x2="1160.5" y1="1002.5" y2="1002.5" stroke="#c4c4c4" stroke-width="1"/>
<line x1="16.6" x2="1160.5" y1="1078.5" y2="1078.5" stroke="#c4c4c4" stroke-width="1"/>
<line x1="16.6" x2="1160.5" y1="1155.5" y2="1155.5" stroke="#c4c4c4" stroke-width="1"/>
<line x1="16.6" x2="1160.5" y1="1230.5" y2="1230.5" stroke="#c4c4c4" stroke-width="1"/>
<line x1="16.6" x2="1160.5" y1="1269.5" y2="1269.5" stroke="#c4c4c4" stroke-width="1"/>
<line x1="54.5" x2="54.5" y1="881.4" y2="1310" stroke="#c4c4c4" stroke-width="1"/>
<line x1="168.5" x2="168.5" y1="881.4" y2="1310" stroke="#c4c4c4" stroke-width="1"/>
<line x1="282.5" x2="282.5" y1="881.4" y2="1310" stroke="#c4c4c4" stroke-width="1"/>
<line x1="396.5" x2="396.5" y1="881.4" y2="1310" stroke="#c4c4c4" stroke-width="1"/>
<line x1="510.5" x2="510.5" y1="881.4" y2="1310" stroke="#c4c4c4" stroke-width="1"/>
<line x1="624.5" x2="624.5" y1="881.4" y2="1310" stroke="#c4c4c4" stroke-width="1"/>
<line x1="738.5" x2="738.5" y1="881.4" y2="1310" stroke="#c4c4c4" stroke-width="1"/>
<line x1="852.5" x2="852.5" y1="881.4" y2="1310" stroke="#c4c4c4" stroke-width="1"/>
<line x1="966.5" x2="966.5" y1="881.4" y2="1310" stroke="#c4c4c4" stroke-width="1"/>
<g stroke="#0000cc" stroke-width="1" shape-rendering="crispEdges">
<line x1="21.5" x2="21.5" y1="1071" y2="1153"/>
<rect x="16.5" y="1080.5" width="10" height="42" fill="#0000cc"/>
<line x1="31.5" x2="31.5" y1="1094" y2="1127"/>
<rect x="26.5" y="1114.5" width="10" height="8" fill="#fff"/>
<line x1="40.5" x2="40.5" y1="1079" y2="1117"/>
<rect x="35.5" y="1084.5" width="10" height="29" fill="#fff"/>
<line x1="49.5" x2="49.5" y1="1071" y2="1091"/>
<rect x="45.5" y="1078.5" width="9" height="6" fill="#fff"/>
<line x1="59.5" x2="59.5" y1="1067" y2="1097"/>
<rect x="54.5" y="1078.5" width="10" height="2" fill="#0000cc"/>
<line x1="68.5" x2="68.5" y1="1068" y2="1095"/>
<rect x="64.5" y="1074.5" width="9" height="7" fill="#fff"/>
<line x1="77.5" x2="77.5" y1="1052" y2="1075"/>
<rect x="73.5" y="1063.5" width="9" height="11" fill="#fff"/>
<line x1="87.5" x2="87.5" y1="1063" y2="1085"/>
<rect x="82.5" y="1063.5" width="10" height="17" fill="#0000cc"/>
<line x1="96.5" x2="96.5" y1="1065" y2="1087"/>
<rect x="92.5" y="1080.5" width="9" height="1" fill="#0000cc"/>
<line x1="106.5" x2="106.5" y1="1079" y2="1120"/>
<rect x="102.5" y="1081.5" width="9" height="26" fill="#0000cc"/>
<line x1="115.5" x2="115.5" y1="1101" y2="1174"/>
<rect x="111.5" y="1107.5" width="9" height="20" fill="#0000cc"/>
<line x1="125.5" x2="125.5" y1="1114" y2="1149"/>
<rect x="120.5" y="1127.5" width="10" height="2" fill="#0000cc"/>
<line x1="135.5" x2="135.5" y1="1127" y2="1177"/>
<rect x="130.5" y="1130.5" width="10" height="40" fill="#0000cc"/>
<line x1="144.5" x2="144.5" y1="1133" y2="1187"/>
<rect x="140.5" y="1140.5" width="9" height="30" fill="#fff"/>
<line x1="153.5" x2="153.5" y1="1118" y2="1145"/>
<rect x="149.5" y="1121.5" width="9" height="19" fill="#fff"/>
<line x1="163.5" x2="163.5" y1="1115" y2="1147"/>
<rect x="158.5" y="1120.5" width="10" height="21" fill="#0000cc"/>
<line x1="172.5" x2="172.5" y1="1141" y2="1159"/>
<rect x="168.5" y="1141.5" width="9" height="12" fill="#0000cc"/>
<line x1="182.5" x2="182.5" y1="1149" y2="1170"/>
<rect x="177.5" y="1153.5" width="10" height="6" fill="#0000cc"/>
<line x1="191.5" x2="191.5" y1="1135" y2="1178"/>
<rect x="187.5" y="1155.5" width="9" height="1" fill="#0000cc"/>
<line x1="201.5" x2="201.5" y1="1132" y2="1157"/>
<rect x="196.5" y="1136.5" width="10" height="19" fill="#fff"/>
<line x1="211.5" x2="211.5" y1="1122" y2="1143"/>
<rect x="206.5" y="1122.5" width="10" height="15" fill="#fff"/>
<line x1="220.5" x2="220.5" y1="1103" y2="1123"/>
<rect x="215.5" y="1118.5" width="10" height="4" fill="#fff"/>
<line x1="229.5" x2="229.5" y1="1104" y2="1121"/>
<rect x="225.5" y="1108.5" width="9" height="10" fill="#fff"/>
<line x1="239.5" x2="239.5" y1="1097" y2="1118"/>
<rect x="234.5" y="1101.5" width="10" height="7" fill="#fff"/>
<line x1="249.5" x2="249.5" y1="1090" y2="1107"/>
<rect x="244.5" y="1101.5" width="10" height="5" fill="#0000cc"/>
<line x1="258.5" x2="258.5" y1="1084" y2="1107"/>
<rect x="253.5" y="1086.5" width="10" height="20" fill="#fff"/>
<line x1="267.5" x2="267.5" y1="1082" y2="1095"/>
<rect x="263.5" y="1086.5" width="9" height="1" fill="#0000cc"/>
<line x1="277.5" x2="277.5" y1="1061" y2="1087"/>
<rect x="273.5" y="1061.5" width="9" height="25" fill="#fff"/>
<line x1="287.5" x2="287.5" y1="1051" y2="1062"/>
<rect x="282.5" y="1060.5" width="10" height="1" fill="#fff"/>
<line x1="296.5" x2="296.5" y1="1049" y2="1063"/>
<rect x="292.5" y="1057.5" width="9" height="3" fill="#fff"/>
<line x1="305.5" x2="305.5" y1="1052" y2="1079"/>
<rect x="301.5" y="1057.5" width="9" height="7" fill="#0000cc"/>
<line x1="315.5" x2="315.5" y1="1056" y2="1071"/>
<rect x="310.5" y="1065.5" width="10" height="5" fill="#0000cc"/>
<line x1="324.5" x2="324.5" y1="1063" y2="1085"/>
<rect x="320.5" y="1069.5" width="9" height="2" fill="#0000cc"/>
<line x1="333.5" x2="333.5" y1="1060" y2="1074"/>
<rect x="329.5" y="1062.5" width="9" height="9" fill="#fff"/>
<line x1="343.5" x2="343.5" y1="1062" y2="1083"/>
<rect x="338.5" y="1062.5" width="10" height="11" fill="#0000cc"/>
<line x1="353.5" x2="353.5" y1="1068" y2="1087"/>
<rect x="348.5" y="1071.5" width="10" height="2" fill="#0000cc"/>
<line x1="362.5" x2="362.5" y1="1065" y2="1080"/>
<rect x="358.5" y="1072.5" width="9" height="2" fill="#0000cc"/>
<line x1="371.5" x2="371.5" y1="1069" y2="1090"/>
<rect x="367.5" y="1074.5" width="9" height="3" fill="#0000cc"/>
<line x1="382.5" x2="382.5" y1="1055" y2="1078"/>
<rect x="377.5" y="1062.5" width="10" height="15" fill="#fff"/>
<line x1="391.5" x2="391.5" y1="1044" y2="1063"/>
<rect x="387.5" y="1049.5" width="9" height="13" fill="#fff"/>
<line x1="401.5" x2="401.5" y1="1045" y2="1065"/>
<rect x="396.5" y="1049.5" width="10" height="10" fill="#0000cc"/>
<line x1="410.5" x2="410.5" y1="1044" y2="1060"/>
<rect x="406.5" y="1050.5" width="9" height="9" fill="#fff"/>
<line x1="419.5" x2="419.5" y1="1040" y2="1063"/>
<rect x="415.5" y="1050.5" width="9" height="10" fill="#0000cc"/>
<line x1="429.5" x2="429.5" y1="1056" y2="1079"/>
<rect x="424.5" y="1060.5" width="10" height="11" fill="#0000cc"/>
<line x1="439.5" x2="439.5" y1="1058" y2="1076"/>
<rect x="434.5" y="1060.5" width="10" height="11" fill="#fff"/>
<line x1="448.5" x2="448.5" y1="1052" y2="1069"/>
<rect x="444.5" y="1060.5" width="9" height="8" fill="#0000cc"/>
<line x1="457.5" x2="457.5" y1="1051" y2="1072"/>
<rect x="453.5" y="1054.5" width="9" height="14" fill="#fff"/>
<line x1="467.5" x2="467.5" y1="1050" y2="1065"/>
<rect x="462.5" y="1054.5" width="10" height="6" fill="#0000cc"/>
<line x1="477.5" x2="477.5" y1="1051" y2="1065"/>
<rect x="472.5" y="1059.5" width="10" height="1" fill="#fff"/>
<line x1="486.5" x2="486.5" y1="1054" y2="1073"/>
<rect x="482.5" y="1057.5" width="9" height="3" fill="#0000cc"/>
<line x1="495.5" x2="495.5" y1="1041" y2="1065"/>
<rect x="491.5" y="1048.5" width="9" height="13" fill="#fff"/>
<line x1="505.5" x2="505.5" y1="1042" y2="1051"/>
<rect x="500.5" y="1048.5" width="10" height="2" fill="#0000cc"/>
<line x1="515.5" x2="515.5" y1="1038" y2="1054"/>
<rect x="510.5" y="1046.5" width="10" height="4" fill="#fff"/>
<line x1="524.5" x2="524.5" y1="1034" y2="1051"/>
<rect x="520.5" y="1040.5" width="9" height="6" fill="#fff"/>
<line x1="533.5" x2="533.5" y1="1028" y2="1044"/>
<rect x="529.5" y="1036.5" width="9" height="4" fill="#fff"/>
<line x1="543.5" x2="543.5" y1="1026" y2="1040"/>
<rect x="538.5" y="1026.5" width="10" height="10" fill="#fff"/>
<line x1="553.5" x2="553.5" y1="1014" y2="1040"/>
<rect x="548.5" y="1026.5" width="10" height="6" fill="#0000cc"/>
<line x1="562.5" x2="562.5" y1="1030" y2="1051"/>
<rect x="558.5" y="1032.5" width="9" height="2" fill="#0000cc"/>
<line x1="571.5" x2="571.5" y1="1033" y2="1053"/>
<rect x="567.5" y="1033.5" width="9" height="1" fill="#fff"/>
<line x1="581.5" x2="581.5" y1="1024" y2="1039"/>
<rect x="576.5" y="1025.5" width="10" height="8" fill="#fff"/>
<line x1="591.5" x2="591.5" y1="1011" y2="1029"/>
<rect x="586.5" y="1014.5" width="10" height="11" fill="#fff"/>
<line x1="600.5" x2="600.5" y1="995" y2="1015"/>
<rect x="596.5" y="999.5" width="9" height="15" fill="#fff"/>
<line x1="609.5" x2="609.5" y1="989" y2="1004"/>
<rect x="605.5" y="994.5" width="9" height="5" fill="#fff"/>
<line x1="619.5" x2="619.5" y1="980" y2="999"/>
<rect x="614.5" y="984.5" width="10" height="10" fill="#fff"/>
<line x1="629.5" x2="629.5" y1="975" y2="985"/>
<rect x="624.5" y="979.5" width="10" height="5" fill="#fff"/>
<line x1="638.5" x2="638.5" y1="971" y2="999"/>
<rect x="634.5" y="979.5" width="9" height="12" fill="#0000cc"/>
<line x1="647.5" x2="647.5" y1="982" y2="1005"/>
<rect x="643.5" y="988.5" width="9" height="3" fill="#fff"/>
<line x1="657.5" x2="657.5" y1="961" y2="989"/>
<rect x="652.5" y="961.5" width="10" height="27" fill="#fff"/>
<line x1="667.5" x2="667.5" y1="937" y2="962"/>
<rect x="662.5" y="939.5" width="10" height="22" fill="#fff"/>
<line x1="676.5" x2="676.5" y1="937" y2="957"/>
<rect x="672.5" y="939.5" width="9" height="9" fill="#0000cc"/>
<line x1="684.5" x2="684.5" y1="924" y2="957"/>
<rect x="679.5" y="949.5" width="10" height="6" fill="#0000cc"/>
<line x1="693.5" x2="693.5" y1="937" y2="983"/>
<rect x="689.5" y="950.5" width="9" height="5" fill="#fff"/>
<line x1="703.5" x2="703.5" y1="930" y2="963"/>
<rect x="698.5" y="930.5" width="10" height="20" fill="#fff"/>
<line x1="712.5" x2="712.5" y1="917" y2="950"/>
<rect x="708.5" y="929.5" width="9" height="3" fill="#fff"/>
<line x1="722.5" x2="722.5" y1="929" y2="975"/>
<rect x="717.5" y="929.5" width="10" height="21" fill="#0000cc"/>
<line x1="731.5" x2="731.5" y1="934" y2="961"/>
<rect x="727.5" y="950.5" width="9" height="3" fill="#0000cc"/>
<line x1="741.5" x2="741.5" y1="953" y2="1017"/>
<rect x="736.5" y="953.5" width="10" height="24" fill="#0000cc"/>
<line x1="750.5" x2="750.5" y1="972" y2="1000"/>
<rect x="746.5" y="977.5" width="9" height="14" fill="#0000cc"/>
<line x1="760.5" x2="760.5" y1="979" y2="1013"/>
<rect x="755.5" y="991.5" width="10" height="1" fill="#0000cc"/>
<line x1="769.5" x2="769.5" y1="963" y2="992"/>
<rect x="765.5" y="970.5" width="9" height="21" fill="#fff"/>
<line x1="779.5" x2="779.5" y1="958" y2="985"/>
<rect x="774.5" y="970.5" width="10" height="7" fill="#0000cc"/>
<line x1="788.5" x2="788.5" y1="977" y2="1031"/>
<rect x="784.5" y="977.5" width="9" height="49" fill="#0000cc"/>
<line x1="798.5" x2="798.5" y1="1013" y2="1047"/>
<rect x="793.5" y="1025.5" width="10" height="2" fill="#fff"/>
<line x1="807.5" x2="807.5" y1="1007" y2="1032"/>
<rect x="803.5" y="1020.5" width="9" height="5" fill="#fff"/>
<line x1="817.5" x2="817.5" y1="1010" y2="1065"/>
<rect x="812.5" y="1020.5" width="10" height="26" fill="#0000cc"/>
<line x1="826.5" x2="826.5" y1="1044" y2="1161"/>
<rect x="822.5" y="1046.5" width="9" height="58" fill="#0000cc"/>
<line x1="836.5" x2="836.5" y1="1091" y2="1177"/>
<rect x="831.5" y="1104.5" width="10" height="19" fill="#0000cc"/>
<line x1="845.5" x2="845.5" y1="1115" y2="1151"/>
<rect x="841.5" y="1123.5" width="9" height="2" fill="#0000cc"/>
<line x1="855.5" x2="855.5" y1="1113" y2="1159"/>
<rect x="850.5" y="1125.5" width="10" height="30" fill="#0000cc"/>
<line x1="864.5" x2="864.5" y1="1142" y2="1192"/>
<rect x="860.5" y="1155.5" width="9" height="36" fill="#0000cc"/>
<line x1="874.5" x2="874.5" y1="1156" y2="1214"/>
<rect x="869.5" y="1170.5" width="10" height="21" fill="#fff"/>
<line x1="883.5" x2="883.5" y1="1142" y2="1176"/>
<rect x="879.5" y="1148.5" width="9" height="22" fill="#fff"/>
<line x1="893.5" x2="893.5" y1="1132" y2="1152"/>
<rect x="888.5" y="1136.5" width="10" height="12" fill="#fff"/>
<line x1="902.5" x2="902.5" y1="1120" y2="1146"/>
<rect x="898.5" y="1136.5" width="9" height="2" fill="#0000cc"/>
<line x1="912.5" x2="912.5" y1="1106" y2="1153"/>
<rect x="907.5" y="1110.5" width="10" height="28" fill="#fff"/>
<line x1="921.5" x2="921.5" y1="1092" y2="1113"/>
<rect x="917.5" y="1099.5" width="9" height="11" fill="#fff"/>
<line x1="931.5" x2="931.5" y1="1080" y2="1105"/>
<rect x="926.5" y="1089.5" width="10" height="10" fill="#fff"/>
<line x1="940.5" x2="940.5" y1="1074" y2="1101"/>
<rect x="936.5" y="1089.5" width="9" height="1" fill="#0000cc"/>
<line x1="950.5" x2="950.5" y1="1059" y2="1092"/>
<rect x="945.5" y="1065.5" width="10" height="24" fill="#fff"/>
<line x1="959.5" x2="959.5" y1="1056" y2="1071"/>
<rect x="955.5" y="1062.5" width="9" height="3" fill="#fff"/>
<line x1="969.5" x2="969.5" y1="1050" y2="1079"/>
<rect x="964.5" y="1062.5" width="10" height="14" fill="#0000cc"/>
<line x1="978.5" x2="978.5" y1="1061" y2="1086"/>
<rect x="974.5" y="1066.5" width="9" height="10" fill="#fff"/>
<line x1="988.5" x2="988.5" y1="1042" y2="1067"/>
<rect x="983.5" y="1045.5" width="10" height="21" fill="#fff"/>
<line x1="997.5" x2="997.5" y1="1030" y2="1048"/>
<rect x="993.5" y="1040.5" width="9" height="5" fill="#fff"/>
<line x1="1009.5" x2="1009.5" y1="1034" y2="1089"/>
<rect x="1004.5" y="1041.5" width="10" height="32" fill="#0000cc"/>
<line x1="1018.5" x2="1018.5" y1="1055" y2="1089"/>
<rect x="1013.5" y="1073.5" width="10" height="15" fill="#0000cc"/>
<line x1="1028.5" x2="1028.5" y1="1057" y2="1094"/>
<rect x="1023.5" y="1061.5" width="10" height="26" fill="#fff"/>
<line x1="1037.5" x2="1037.5" y1="1050" y2="1083"/>
<rect x="1033.5" y="1061.5" width="9" height="18" fill="#0000cc"/>
<line x1="1047.5" x2="1047.5" y1="1042" y2="1080"/>
<rect x="1042.5" y="1049.5" width="10" height="30" fill="#fff"/>
<line x1="1056.5" x2="1056.5" y1="1031" y2="1053"/>
<rect x="1052.5" y="1035.5" width="9" height="14" fill="#fff"/>
<line x1="1065.5" x2="1065.5" y1="1023" y2="1044"/>
<rect x="1061.5" y="1035.5" width="9" height="6" fill="#0000cc"/>
<line x1="1075.5" x2="1075.5" y1="1023" y2="1042"/>
<rect x="1070.5" y="1024.5" width="10" height="17" fill="#fff"/>
</g>
<g clip-path="url(#c3)" stroke-linejoin="round">
<polyline fill="none" stroke="#ff0000" stroke-width="1.0"  points="21.2,994.2 32.5,994.2 40,998 50,998.2 60,1008.8 70,1021.2 77.5,1022.5 87.5,1030.5 97.5,1031.2 107.5,1038 117.5,1030 125,1022.5 130,1012.5 136.2,1002 145,1004.5 152.5,1013.8 160,1030 170,1051.2 180,1075 190,1092.5 202.5,1100 212.5,1095 221.2,1093 230,1082.5 240,1072.5 250,1061.2 260,1050 270,1047.5 280,1037.5 287.5,1028.8 296.2,1020 305,1020 315,1023 325,1026.2 335,1036.2 342,1038.8 352,1046.2 362,1047 372,1048.8 382,1052 387,1043.8 397,1037.5 409.5,1032 424.5,1031.2 442,1032 457,1035 467,1035.8 477,1039.5 492,1039.5 504.5,1036.2 517,1032.5 527,1026.2 537,1021.2 542,1014.5 552,1010.8 562,1010 572,1015 582,1011.2 592,1006.2 599.5,990 607,975 614.5,962.5 622,950 629.5,945 639.5,943.8 649.5,945 657,937.5 664.5,921.2 672,915 679.5,913 684,913 694,910 704,897.5 714,888 724,900 734,912 744,902.5 754,893.8 764,890 779,892 791.5,891.2 801.5,906.2 811.5,918.8 819,925 826.5,906.2 834,890 839,881.2 844,872.5 846.5,872.5 850.2,882.5 856.5,897.5 866.5,912.5 876.5,927.5 884,951.2 891.5,995 896.5,1027.5 904,1066.2 912.8,1072 921.5,1058.8 931.5,1040 941.5,1025 951.5,1018.8 961.5,1014.2 971.5,1015.8 984,1016.8 991.5,1016.2 999,1013.2 1000,1015.1 1010.7,1018.3 1021.4,1019.1 1032.2,1021.8 1040.2,1020.4 1048.2,1015.1 1056.3,1007 1064.3,1003 1075.8,992.3"/>
<polyline fill="none" stroke="#ff0000" stroke-width="1.0"  points="21.2,1018 32.5,1021.2 40,1023 50,1023.8 60,1032.5 70,1041.2 77.5,1043 87.5,1048.8 97.5,1049.2 107.5,1054.2 117.5,1049.5 125,1045.5 135,1035 145,1037.5 152.5,1045 160,1057.5 170,1073.8 180,1092.5 190,1108.8 202.5,1114.2 212.5,1111.2 221.2,1107.5 230,1098.8 240,1088.8 250,1078.8 260,1071.2 270,1066.2 280,1057.5 287.5,1048.8 296.2,1041.2 305,1040 315,1040 325,1041.2 335,1044.5 342,1048.8 352,1053.8 362,1053.8 372,1055.5 382,1057.5 387,1051.2 397,1045.5 409.5,1042 424.5,1040.8 442,1042 457,1043.8 467,1044.5 477,1046.8 492,1047 504.5,1043.8 517,1040 527,1035 537,1030 542,1025 552,1021.2 562,1019.5 572,1022.5 582,1018.8 592,1013.8 599.5,1001.2 607,990 614.5,980 622,971.2 629.5,966.2 639.5,963.8 649.5,962.5 657,955 664.5,941.2 672,933.8 679.5,931.8 684,932 694,930 704,920 714,910.8 724,917.5 734,923 744,917.5 754,913.8 764,912 779,915 791.5,918.8 801.5,930 811.5,943.8 819,951.2 826.5,942.5 834,932.5 839,931.2 846.5,933.8 854,947.5 864,965 874,982.5 884,1007.5 891.5,1035 897.8,1065 904,1092.5 912.8,1096.2 921.5,1085 931.5,1070 941.5,1057.5 951.5,1050 961.5,1043.8 971.5,1042 984,1040 991.5,1037.5 999,1033.8 1000,1032.5 1010.7,1033.8 1021.4,1034.3 1032.2,1036 1040.2,1033.8 1048.2,1029 1056.3,1024.4 1067,1019.1 1075.8,1012.4"/>
<polyline fill="none" stroke="#ff0000" stroke-width="1.0"  points="21.2,1042 32.5,1047.5 40,1050 50,1050.5 60,1057 70,1062.5 80,1063.8 90,1066.2 100,1068 107.5,1069.5 117.5,1067 125,1066.8 135,1068 147.5,1075 155,1082.5 165,1097.5 175,1111.2 185,1122.5 195,1128 202.5,1128.8 212.5,1126.2 221.2,1121.2 230,1115.8 240,1108.8 250,1102.5 260,1095 270,1087.5 280,1078.8 287.5,1070 296.2,1062.5 305,1059.5 315,1057.5 325,1057 335,1057 342,1058.8 352,1060 362,1060.5 372,1062.5 382,1063.8 387,1058.8 397,1053.8 409.5,1051.2 424.5,1050.5 442,1051.2 457,1053 467,1053.8 477,1054.2 492,1054.2 504.5,1050.5 517,1046.2 527,1041.2 537,1037.5 547,1033.8 557,1031.2 567,1030 577,1028.8 584.5,1026.2 592,1021.2 599.5,1012.5 607,1003.8 614.5,997.5 622,992.5 629.5,987.5 639.5,983.8 649.5,981.2 657,972.5 664.5,961.2 672,953.8 679.5,951.2 684,951.2 694,950 704,941.2 714,933.8 724,932.5 734,932.5 744,932.5 754,934.5 766.5,936.2 779,938.8 791.5,946.2 801.5,956.2 811.5,968.8 819,976.2 829,977.5 839,982.5 849,995 859,1015 869,1035 879,1055 886.5,1072.5 894,1092.5 904,1116.2 911.5,1119.5 921.5,1111.2 931.5,1101.2 941.5,1090 951.5,1080 961.5,1071.2 971.5,1065 984,1060 991.5,1055 999,1051.2 1000,1049.9 1013.4,1049.9 1026.8,1050.4 1037.5,1049.9 1045.6,1047.2 1053.6,1043.2 1064.3,1037.8 1075.8,1031.7"/>
<polyline fill="none" stroke="#ff0000" stroke-width="1.0"  points="21.2,1089.2 30,1098.8 37.5,1100 50,1100.5 60,1103 75,1103.2 87.5,1103.2 98.8,1102.5 107.5,1098.8 117.5,1105 125,1117.5 135,1130 142.5,1140 155,1145 165,1150 175,1153.8 185,1157 195,1158.8 202.5,1159.2 212.5,1158 221.2,1151.2 230,1150 240,1150 250,1147.5 260,1141.2 270,1130 280,1120 290,1108.8 300,1100 312.5,1091.2 325,1086.2 335,1077.5 342,1075 352,1071.2 362,1072 372,1075 382,1074.5 392,1075 404.5,1075 417,1074.5 432,1072.5 447,1070 462,1067 477,1066.2 492,1065 504.5,1063.8 517,1061.2 529.5,1057.5 542,1055 554.5,1051.2 567,1046.2 579.5,1041.2 589.5,1038.8 599.5,1037.5 609.5,1035.8 619.5,1032.5 629.5,1028.8 639.5,1023.8 649.5,1016.2 657,1008.8 664.5,1002.5 672,997.5 679.5,993.8 684,991.2 694,983.8 704,978.8 714,972.5 724,963.8 734,955 744,962.5 751.5,972.5 761.5,980 771.5,983.8 781.5,988.8 789,997.5 799,1010 809,1020 819,1035 829,1062.5 839,1090 849,1110 856.5,1125 864,1140 874,1157.5 881.5,1168.8 887.8,1172.5 896.5,1170 904,1166.8 916.5,1166.2 931.5,1168 941.5,1162.5 951.5,1146.2 961.5,1132.5 971.5,1120 984,1102.5 991.5,1091.2 999,1085 1000,1087.4 1010.7,1082 1021.4,1079.4 1026.8,1076.7 1037.5,1078 1048.2,1078.8 1056.3,1075.3 1067,1073.2 1075.8,1073.5"/>
<polyline fill="none" stroke="#ff0000" stroke-width="1.0"  points="21.2,1113 30,1125 37.5,1127.5 50,1127 60,1126.2 70,1122.5 80,1122.5 90,1121.2 100,1119.5 107.5,1113.8 117.5,1125 125,1137.5 132.5,1152.5 137.5,1168.8 147.5,1175.5 160,1175.8 172.5,1177.5 182.5,1175 192.5,1174.2 202.5,1174.2 211.2,1175 221.2,1167 230,1169.5 240,1172 250,1170.5 260,1165 270,1152.5 280,1141.2 290,1131.2 300,1121.2 312.5,1110 325,1101.2 335,1086.2 342,1084.5 352,1077.5 362,1078.8 372,1082 382,1080 392,1083.8 404.5,1084.5 417,1084.5 432,1082.5 447,1077.5 462,1074.5 477,1072.5 492,1072 504.5,1071.2 517,1068.8 529.5,1066.2 542,1065 554.5,1061.2 567,1055 579.5,1050 589.5,1048.8 599.5,1051.2 609.5,1052 619.5,1052 629.5,1051.2 639.5,1043.8 649.5,1036.2 657,1028.8 664.5,1025 672,1018 679.5,1012.5 684,1010.5 694,1002.5 704,1000 714,993.8 724,980 734,966.2 741.5,976.2 749,990 759,1002.5 769,1003.8 779,1007.5 786.5,1020 794,1032.5 804,1037.5 814,1047.5 824,1082.5 831.5,1110 839,1127.5 846.5,1145 856.5,1172.5 864,1192.5 875.2,1223.8 884,1226.2 891.5,1215 899,1200 904,1191.2 912.8,1189.5 921.5,1193.8 931.5,1198.8 941.5,1197.5 951.5,1180 961.5,1162.5 971.5,1147.5 984,1126.2 991.5,1112.5 999,1101.2 1000,1103.5 1010.7,1098.7 1018.8,1098.1 1026.8,1091.4 1037.5,1093.6 1048.2,1093.6 1056.3,1092.2 1064.3,1091.4 1075.8,1094.9"/>
<polyline fill="none" stroke="#ff0000" stroke-width="1.0"  points="21.2,1137 30,1150 37.5,1153.8 50,1153.2 60,1150 70,1143.8 80,1142.5 90,1140 98.8,1138.8 107.5,1129.5 117.5,1143.8 125,1156.2 130,1177.5 135,1197.5 145,1208.8 152.5,1207.5 162.5,1203 172.5,1201.2 182.5,1193.8 192.5,1189.5 202.5,1188.2 211.2,1190.8 221.2,1182.5 230,1187.5 240,1192 250,1192 260,1189.5 270,1175 280,1162.5 290,1155 300,1145 312.5,1131.2 325,1117.5 335,1096.2 342,1093.8 352,1083.8 362,1085.5 372,1088.8 382,1085 392,1092.5 404.5,1093.8 417,1094.2 432,1092.5 444.5,1087.5 454.5,1082.5 467,1079.5 477,1078.8 492,1078.8 504.5,1079.5 512,1076.2 522,1077 534.5,1075 543.2,1079.5 554.5,1075 564.5,1070 572,1062.5 582,1057.5 589.5,1057 599.5,1062.5 609.5,1065 619.5,1068.8 628.2,1073 639.5,1062.5 649.5,1052.5 657,1045 667,1043.8 674.5,1033.8 684,1030 694,1022 704,1020.5 714,1016.2 724,996.2 734,977.5 741.5,992.5 749,1007.5 759,1022.5 769,1026.2 779,1031.2 786.5,1042.5 794,1056.2 804,1062.5 811.5,1065 819,1077.5 826.5,1115 831.5,1152.5 836.5,1180 844,1202.5 851.5,1227.5 860.2,1250 869,1275 879,1290 889,1275 896.5,1246.5 904,1216.2 912.8,1213.8 921.5,1221.2 931.5,1230.5 941.5,1230.5 949,1215 959,1192.5 971.5,1168.8 984,1147.5 989,1133.8 999,1122.5 1000,1123.6 1008,1115.5 1018.8,1112.9 1026.8,1104.8 1037.5,1107.5 1048.2,1109.4 1056.3,1109.4 1064.3,1109.4 1075.8,1114.7"/>
<polyline fill="none" stroke="#505050" stroke-width="1"  points="21.2,1065.5 30,1071.2 37.5,1075 50,1076.2 60,1080.5 72.5,1083 85,1084.5 100,1085 115,1085 125,1090 135,1100 145,1106.2 155,1111.2 165,1120 175,1130 185,1138.8 192.5,1142.5 202.5,1143.8 212.5,1141.2 222.5,1136.2 232.5,1133.8 242.5,1132 252.5,1126.2 262.5,1117.5 275,1105 287.5,1091.2 300,1081.2 312.5,1075 325,1070 335,1066.2 342,1066.2 352,1064.2 362,1065 372,1068 382,1067.5 392,1067 404.5,1063.8 417,1062.5 432,1061.2 447,1060.5 462,1059.5 477,1059.5 492,1059.5 504.5,1057 517,1053 529.5,1048.8 542,1045 554.5,1041.2 567,1037.5 579.5,1035 589.5,1031.2 599.5,1023.8 609.5,1017.5 619.5,1012.5 629.5,1007.5 639.5,1002.5 649.5,996.2 657,990 664.5,981.2 672,975 679.5,972 684,971.2 694,966.2 704,960 714,953.8 724,948.8 734,945 744,946.2 751.5,951.2 761.5,957 771.5,958.8 781.5,961.2 791.5,975 801.5,985 811.5,995 821.5,1007.5 831.5,1022.5 841.5,1037.5 849,1050 856.5,1065 864,1080 874,1100 884,1117.5 894,1132.5 904,1141.2 912.8,1143 921.5,1141.2 931.5,1136.2 941.5,1128.8 951.5,1112.5 961.5,1101.2 971.5,1092.5 984,1080 991.5,1072.5 999,1068.8 1000,1070 1013.4,1066.5 1026.8,1064.6 1040.2,1063.8 1048.2,1061.9 1056.3,1057.9 1067,1055.2 1075.8,1053.4"/>
</g>
<g fill="#99ccff" stroke="#0000cc" stroke-width="1" shape-rendering="crispEdges">
<rect x="16.5" y="1260.5" width="10" height="48"/>
<rect x="26.5" y="1251.5" width="9" height="57"/>
<rect x="35.5" y="1258.5" width="10" height="50"/>
<rect x="45.5" y="1261.5" width="9" height="47"/>
<rect x="54.5" y="1251.5" width="10" height="57"/>
<rect x="64.5" y="1258.5" width="9" height="50"/>
<rect x="73.5" y="1257.5" width="10" height="51"/>
<rect x="83.5" y="1253.5" width="9" height="55"/>
<rect x="92.5" y="1256.5" width="10" height="52"/>
<rect x="102.5" y="1249.5" width="9" height="59"/>
<rect x="111.5" y="1229.5" width="10" height="79"/>
<rect x="121.5" y="1252.5" width="9" height="56"/>
<rect x="130.5" y="1255.5" width="10" height="53"/>
<rect x="140.5" y="1237.5" width="9" height="71"/>
<rect x="149.5" y="1257.5" width="10" height="51"/>
<rect x="159.5" y="1260.5" width="9" height="48"/>
<rect x="168.5" y="1250.5" width="10" height="58"/>
<rect x="178.5" y="1260.5" width="9" height="48"/>
<rect x="187.5" y="1251.5" width="10" height="57"/>
<rect x="197.5" y="1252.5" width="9" height="56"/>
<rect x="206.5" y="1249.5" width="10" height="59"/>
<rect x="216.5" y="1248.5" width="9" height="60"/>
<rect x="225.5" y="1249.5" width="10" height="59"/>
<rect x="235.5" y="1260.5" width="9" height="48"/>
<rect x="244.5" y="1252.5" width="10" height="56"/>
<rect x="254.5" y="1247.5" width="9" height="61"/>
<rect x="263.5" y="1262.5" width="10" height="46"/>
<rect x="273.5" y="1255.5" width="9" height="53"/>
<rect x="282.5" y="1245.5" width="10" height="63"/>
<rect x="292.5" y="1254.5" width="9" height="54"/>
<rect x="301.5" y="1243.5" width="10" height="65"/>
<rect x="311.5" y="1247.5" width="9" height="61"/>
<rect x="320.5" y="1251.5" width="10" height="57"/>
<rect x="330.5" y="1253.5" width="9" height="55"/>
<rect x="339.5" y="1251.5" width="10" height="57"/>
<rect x="349.5" y="1256.5" width="9" height="52"/>
<rect x="358.5" y="1256.5" width="10" height="52"/>
<rect x="368.5" y="1247.5" width="9" height="61"/>
<rect x="377.5" y="1249.5" width="10" height="59"/>
<rect x="387.5" y="1249.5" width="9" height="59"/>
<rect x="396.5" y="1247.5" width="10" height="61"/>
<rect x="406.5" y="1251.5" width="9" height="57"/>
<rect x="415.5" y="1239.5" width="10" height="69"/>
<rect x="425.5" y="1240.5" width="9" height="68"/>
<rect x="434.5" y="1248.5" width="10" height="60"/>
<rect x="444.5" y="1247.5" width="9" height="61"/>
<rect x="453.5" y="1251.5" width="10" height="57"/>
<rect x="463.5" y="1244.5" width="9" height="64"/>
<rect x="472.5" y="1242.5" width="10" height="66"/>
<rect x="482.5" y="1235.5" width="9" height="73"/>
<rect x="491.5" y="1243.5" width="10" height="65"/>
<rect x="501.5" y="1247.5" width="9" height="61"/>
<rect x="510.5" y="1238.5" width="10" height="70"/>
<rect x="520.5" y="1246.5" width="9" height="62"/>
<rect x="529.5" y="1236.5" width="10" height="72"/>
<rect x="539.5" y="1248.5" width="9" height="60"/>
<rect x="548.5" y="1231.5" width="10" height="77"/>
<rect x="558.5" y="1232.5" width="9" height="76"/>
<rect x="567.5" y="1246.5" width="10" height="62"/>
<rect x="577.5" y="1245.5" width="9" height="63"/>
<rect x="586.5" y="1247.5" width="10" height="61"/>
<rect x="596.5" y="1240.5" width="9" height="68"/>
<rect x="605.5" y="1243.5" width="10" height="65"/>
<rect x="615.5" y="1254.5" width="9" height="54"/>
<rect x="624.5" y="1245.5" width="10" height="63"/>
<rect x="634.5" y="1250.5" width="9" height="58"/>
<rect x="643.5" y="1236.5" width="10" height="72"/>
<rect x="653.5" y="1248.5" width="9" height="60"/>
<rect x="662.5" y="1242.5" width="10" height="66"/>
<rect x="672.5" y="1242.5" width="9" height="66"/>
<rect x="681.5" y="1240.5" width="10" height="68"/>
<rect x="691.5" y="1223.5" width="9" height="85"/>
<rect x="700.5" y="1257.5" width="10" height="51"/>
<rect x="710.5" y="1249.5" width="9" height="59"/>
<rect x="719.5" y="1241.5" width="10" height="67"/>
<rect x="729.5" y="1257.5" width="9" height="51"/>
<rect x="738.5" y="1229.5" width="10" height="79"/>
<rect x="748.5" y="1249.5" width="9" height="59"/>
<rect x="757.5" y="1241.5" width="10" height="67"/>
<rect x="767.5" y="1252.5" width="9" height="56"/>
<rect x="776.5" y="1258.5" width="10" height="50"/>
<rect x="786.5" y="1251.5" width="9" height="57"/>
<rect x="795.5" y="1243.5" width="10" height="65"/>
<rect x="805.5" y="1264.5" width="9" height="44"/>
<rect x="814.5" y="1243.5" width="10" height="65"/>
<rect x="824.5" y="1232.5" width="9" height="76"/>
<rect x="833.5" y="1252.5" width="10" height="56"/>
<rect x="843.5" y="1251.5" width="9" height="57"/>
<rect x="852.5" y="1254.5" width="10" height="54"/>
<rect x="862.5" y="1250.5" width="9" height="58"/>
<rect x="871.5" y="1230.5" width="10" height="78"/>
<rect x="881.5" y="1243.5" width="9" height="65"/>
<rect x="890.5" y="1248.5" width="10" height="60"/>
<rect x="900.5" y="1252.5" width="9" height="56"/>
<rect x="909.5" y="1258.5" width="10" height="50"/>
<rect x="919.5" y="1259.5" width="9" height="49"/>
<rect x="928.5" y="1252.5" width="10" height="56"/>
<rect x="938.5" y="1252.5" width="9" height="56"/>
<rect x="947.5" y="1267.5" width="10" height="41"/>
<rect x="957.5" y="1261.5" width="9" height="47"/>
<rect x="966.5" y="1265.5" width="10" height="43"/>
<rect x="976.5" y="1266.5" width="9" height="42"/>
<rect x="985.5" y="1261.5" width="10" height="47"/>
<rect x="995.5" y="1259.5" width="9" height="49"/>
<rect x="1004.5" y="1247.5" width="10" height="61"/>
<rect x="1014.5" y="1249.5" width="9" height="59"/>
<rect x="1023.5" y="1261.5" width="10" height="47"/>
<rect x="1033.5" y="1265.5" width="9" height="43"/>
<rect x="1042.5" y="1267.5" width="10" height="41"/>
<rect x="1052.5" y="1266.5" width="9" height="42"/>
<rect x="1061.5" y="1266.5" width="10" height="42"/>
<rect x="1071.5" y="1291.5" width="9" height="17"/>
</g>
<line x1="1081" x2="1160.5" y1="1301.3" y2="1301.3" stroke="#9a9ae0" stroke-width="1"/>
<line x1="652.5" x2="652.5" y1="882" y2="1308" stroke="#9c9ce6" stroke-width="1" opacity="0.8" shape-rendering="crispEdges"/>
<line x1="16" x2="1161.1" y1="881.4" y2="881.4" stroke="#000" stroke-width="1.25"/>
<line x1="16.6" x2="16.6" y1="881.4" y2="1310" stroke="#000" stroke-width="1.3"/>
<line x1="1160.5" x2="1160.5" y1="881.4" y2="1310" stroke="#000" stroke-width="1.2"/>
<line x1="15.9" x2="1161.1" y1="1309.5" y2="1309.5" stroke="#000" stroke-width="1.4"/>
<text x="56" y="893.6" font-size="12.5" text-anchor="start" fill="#000" font-weight="normal" class="num" textLength="15.9" lengthAdjust="spacingAndGlyphs">2/1</text>
<text x="170" y="893.6" font-size="12.5" text-anchor="start" fill="#000" font-weight="normal" class="num" textLength="15.9" lengthAdjust="spacingAndGlyphs">3/1</text>
<text x="284" y="893.6" font-size="12.5" text-anchor="start" fill="#000" font-weight="normal" class="num" textLength="15.9" lengthAdjust="spacingAndGlyphs">4/1</text>
<text x="398" y="893.6" font-size="12.5" text-anchor="start" fill="#000" font-weight="normal" class="num" textLength="15.9" lengthAdjust="spacingAndGlyphs">5/1</text>
<text x="512" y="893.6" font-size="12.5" text-anchor="start" fill="#000" font-weight="normal" class="num" textLength="15.9" lengthAdjust="spacingAndGlyphs">6/1</text>
<text x="626" y="893.6" font-size="12.5" text-anchor="start" fill="#000" font-weight="normal" class="num" textLength="15.9" lengthAdjust="spacingAndGlyphs">7/1</text>
<text x="740" y="893.6" font-size="12.5" text-anchor="start" fill="#000" font-weight="normal" class="num" textLength="15.9" lengthAdjust="spacingAndGlyphs">8/1</text>
<text x="854" y="893.6" font-size="12.5" text-anchor="start" fill="#000" font-weight="normal" class="num" textLength="15.9" lengthAdjust="spacingAndGlyphs">9/1</text>
<text x="968" y="893.6" font-size="12.5" text-anchor="start" fill="#000" font-weight="normal" class="num" textLength="21.2" lengthAdjust="spacingAndGlyphs">10/1</text>
<text x="1129.5" y="924.5" font-size="12.5" text-anchor="start" fill="#000" font-weight="normal" class="num" textLength="28.5" lengthAdjust="spacingAndGlyphs">14000</text>
<text x="1129.5" y="1001.6" font-size="12.5" text-anchor="start" fill="#000" font-weight="normal" class="num" textLength="28.5" lengthAdjust="spacingAndGlyphs">12000</text>
<text x="1129.5" y="1077.6" font-size="12.5" text-anchor="start" fill="#000" font-weight="normal" class="num" textLength="28.5" lengthAdjust="spacingAndGlyphs">10000</text>
<text x="1135.2" y="1154.4" font-size="12.5" text-anchor="start" fill="#000" font-weight="normal" class="num" textLength="22.8" lengthAdjust="spacingAndGlyphs">8000</text>
<text x="1129.6" y="1230" font-size="12.5" text-anchor="start" fill="#000" font-weight="normal" class="jp" textLength="29" lengthAdjust="spacingAndGlyphs">400万</text>
<text x="1129.6" y="1268.8" font-size="12.5" text-anchor="start" fill="#000" font-weight="normal" class="jp" textLength="29" lengthAdjust="spacingAndGlyphs">200万</text>
<text x="1152.3" y="1308" font-size="12.5" text-anchor="start" fill="#000" font-weight="normal" class="num" textLength="5.7" lengthAdjust="spacingAndGlyphs">0</text>
<line x1="5" x2="21" y1="431.1" y2="431.1" stroke="#e6e6e6" stroke-width="1.7"/>
<line x1="21" x2="1131" y1="431.1" y2="431.1" stroke="#cdcdcd" stroke-width="1.7"/>
<line x1="1131" x2="1149" y1="431.1" y2="431.1" stroke="#e6e6e6" stroke-width="1.7"/>
<rect x="1010" y="430.6" width="17" height="2.3" rx="1" fill="#fff" stroke="#d8d8d8" stroke-width="0.8"/>
<line x1="9" x2="25" y1="871.1" y2="871.1" stroke="#e6e6e6" stroke-width="1.7"/>
<line x1="25" x2="1136" y1="871.1" y2="871.1" stroke="#cdcdcd" stroke-width="1.7"/>
<line x1="1136" x2="1154" y1="871.1" y2="871.1" stroke="#e6e6e6" stroke-width="1.7"/>
<rect x="1050" y="870.5" width="16" height="2.3" rx="1" fill="#fff" stroke="#d8d8d8" stroke-width="0.8"/>
<line x1="17" x2="33" y1="1311.5" y2="1311.5" stroke="#e6e6e6" stroke-width="2.3"/>
<line x1="33" x2="1144" y1="1311.5" y2="1311.5" stroke="#c6c6c6" stroke-width="2.3"/>
<line x1="1144" x2="1162" y1="1311.5" y2="1311.5" stroke="#e6e6e6" stroke-width="2.3"/>
<rect x="1053" y="1310.6" width="17" height="2.9" rx="1" fill="#fff" stroke="#d8d8d8" stroke-width="0.8"/>
<line x1="358" x2="392" y1="432.7" y2="432.7" stroke="#f0a020" stroke-width="1.2"/>
<line x1="414" x2="459" y1="432.7" y2="432.7" stroke="#c0c0c0" stroke-width="1.2"/>
<line x1="366" x2="401" y1="872.5" y2="872.5" stroke="#f0a020" stroke-width="1.2"/>
<line x1="423" x2="467" y1="872.5" y2="872.5" stroke="#c0c0c0" stroke-width="1.2"/>
<rect x="285" y="431.7" width="56" height="3.6" rx="1.5" fill="none" stroke="#e2e4ea" stroke-width="1"/>
<rect x="285" y="871.2" width="56" height="3.6" rx="1.5" fill="none" stroke="#e2e4ea" stroke-width="1"/>
<rect x="292" y="1311" width="50" height="3.6" rx="1.5" fill="none" stroke="#e2e4ea" stroke-width="1"/>
<text x="1167.7" y="44.8" font-size="12.2" text-anchor="start" fill="#000" font-weight="bold" class="jp" textLength="193.2" lengthAdjust="spacing">日足ボリバンは横ばいになりつつ</text>
<text x="1167.7" y="70.1" font-size="12.2" text-anchor="start" fill="#000" font-weight="bold" class="jp" textLength="25.2" lengthAdjust="spacing">ある</text>
<text x="1165.2" y="518.8" font-size="12.2" text-anchor="start" fill="#000" font-weight="bold" class="jp" textLength="115.7" lengthAdjust="spacing">週足ボリバンも収縮</text>
<text x="1171.7" y="998.1" font-size="12.2" text-anchor="start" fill="#000" font-weight="bold" class="jp" textLength="180.3" lengthAdjust="spacing">月足ボリバンはバンドウォーク</text>
<text x="1171.7" y="1023.8" font-size="12.2" text-anchor="start" fill="#000" font-weight="bold" class="jp" textLength="25.2" lengthAdjust="spacing">継続</text>
<text x="1171.7" y="1128.3" font-size="12.2" text-anchor="start" fill="#000" font-weight="bold" class="jp" textLength="180.3" lengthAdjust="spacing">ダウボリバンは、短期横ばい・</text>
<text x="1171.7" y="1154" font-size="12.2" text-anchor="start" fill="#000" font-weight="bold" class="jp" textLength="180.3" lengthAdjust="spacing">中期調整サイン・長期強気継続</text>
</svg>
</body></html>
